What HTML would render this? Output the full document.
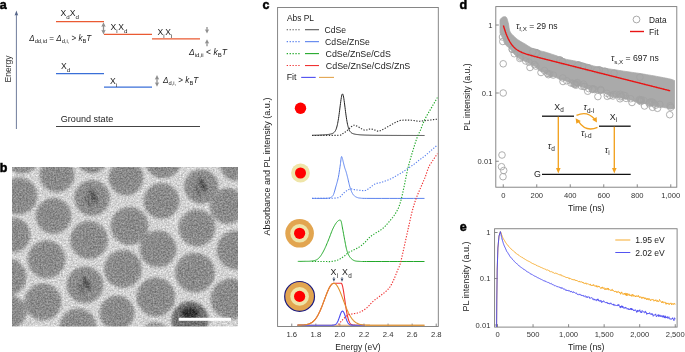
<!DOCTYPE html>
<html><head><meta charset="utf-8"><style>
html,body{margin:0;padding:0;background:#fff;width:685px;height:352px;overflow:hidden}
svg{display:block;will-change:transform}
text{font-family:"Liberation Sans",sans-serif}
</style></head><body>
<svg width="685" height="352" viewBox="0 0 685 352" font-family="Liberation Sans, sans-serif">
<text x="-0.3" y="8.9" font-size="12.5" font-weight="bold" fill="#000" stroke="#000" stroke-width="0.5">a</text>
<line x1="16.4" y1="13" x2="16.4" y2="129" stroke="#56668a" stroke-width="0.85"/>
<path d="M14.6,15.5 L16.4,10.6 L18.2,15.5 Q16.4,14.6 14.6,15.5 Z" fill="#56668a"/>
<text x="10.6" y="69" font-size="8.5" text-anchor="middle" fill="#333" transform="rotate(-90 10.6 69)">Energy</text>
<line x1="56" y1="21.6" x2="104" y2="21.6" stroke="#ea5a32" stroke-width="1.3"/>
<line x1="104" y1="34.3" x2="152" y2="34.3" stroke="#ea5a32" stroke-width="1.3"/>
<line x1="152" y1="38.8" x2="200" y2="38.8" stroke="#ea5a32" stroke-width="1.3"/>
<line x1="56" y1="73.7" x2="104" y2="73.7" stroke="#3a6fd8" stroke-width="1.3"/>
<line x1="104" y1="87.2" x2="152" y2="87.2" stroke="#3a6fd8" stroke-width="1.3"/>
<line x1="56" y1="126.5" x2="200" y2="126.5" stroke="#444" stroke-width="1.2"/>
<text x="60.6" y="16.2" font-size="8.6" fill="#222">X<tspan font-size="6.2" dy="2.3">d</tspan><tspan dy="-2.3" dx="0">X</tspan><tspan font-size="6.2" dy="2.3">d</tspan></text>
<text x="110.5" y="30.2" font-size="8.6" fill="#222">X<tspan font-size="6.2" dy="2.3">i</tspan><tspan dy="-2.3" dx="0.6">X</tspan><tspan font-size="6.2" dy="2.3">d</tspan></text>
<text x="157.5" y="35.2" font-size="8.6" fill="#222">X<tspan font-size="6.2" dy="2.3">i</tspan><tspan dy="-2.3" dx="0.6">X</tspan><tspan font-size="6.2" dy="2.3">i</tspan></text>
<text x="61" y="69.2" font-size="8.6" fill="#222">X<tspan font-size="6.2" dy="2.3">d</tspan></text>
<text x="110" y="84.2" font-size="8.6" fill="#222">X<tspan font-size="6.2" dy="2.3">i</tspan></text>
<text x="60.8" y="121.5" font-size="9" text-anchor="start" fill="#222" textLength="52.4" lengthAdjust="spacingAndGlyphs">Ground state</text>
<text x="29.3" y="41" font-size="8.5" fill="#222" textLength="62" lengthAdjust="spacingAndGlyphs"><tspan font-style="italic">Δ</tspan><tspan font-size="6" dy="1.8">dd,id</tspan><tspan dy="-1.8"> = </tspan><tspan font-style="italic">Δ</tspan><tspan font-size="6" dy="1.8">d,i,</tspan><tspan dy="-1.8"> &gt; </tspan><tspan font-style="italic">k</tspan><tspan font-size="6" dy="1.8">B</tspan><tspan dy="-1.8" font-style="italic">T</tspan></text>
<text x="189" y="55" font-size="8.5" fill="#222"><tspan font-style="italic">Δ</tspan><tspan font-size="6" dy="1.8">id,ii</tspan><tspan dy="-1.8"> &lt; </tspan><tspan font-style="italic">k</tspan><tspan font-size="6" dy="1.8">B</tspan><tspan dy="-1.8" font-style="italic">T</tspan></text>
<text x="162.9" y="83.4" font-size="8.5" fill="#222" textLength="35.4" lengthAdjust="spacingAndGlyphs"><tspan font-style="italic">Δ</tspan><tspan font-size="6" dy="1.8">d,i,</tspan><tspan dy="-1.8"> &gt; </tspan><tspan font-style="italic">k</tspan><tspan font-size="6" dy="1.8">B</tspan><tspan dy="-1.8" font-style="italic">T</tspan></text>
<line x1="103.5" y1="25.2" x2="103.5" y2="31.4" stroke="#8f8f8f" stroke-width="1.3"/><path d="M101.3,26.799999999999997 L103.5,22.2 L105.7,26.799999999999997 Q103.5,25.8 101.3,26.799999999999997 Z" fill="#8f8f8f"/><path d="M101.3,29.799999999999997 L103.5,34.4 L105.7,29.799999999999997 Q103.5,30.799999999999997 101.3,29.799999999999997 Z" fill="#8f8f8f"/>
<line x1="157" y1="78" x2="157" y2="83.8" stroke="#8f8f8f" stroke-width="1.3"/><path d="M154.8,79.6 L157,75 L159.2,79.6 Q157,78.6 154.8,79.6 Z" fill="#8f8f8f"/><path d="M154.8,82.2 L157,86.8 L159.2,82.2 Q157,83.2 154.8,82.2 Z" fill="#8f8f8f"/>
<line x1="207" y1="27" x2="207" y2="30" stroke="#8f8f8f" stroke-width="1.3"/><path d="M204.8,29.2 L207,33.6 L209.2,29.2 Q207,30.2 204.8,29.2 Z" fill="#8f8f8f"/>
<line x1="207" y1="43" x2="207" y2="46.3" stroke="#8f8f8f" stroke-width="1.3"/><path d="M204.8,43.6 L207,39.2 L209.2,43.6 Q207,42.6 204.8,43.6 Z" fill="#8f8f8f"/>
<text x="-0.3" y="172" font-size="12.5" font-weight="bold" fill="#000" stroke="#000" stroke-width="0.5">b</text>
<defs><clipPath id="temclip"><rect x="12" y="167" width="226" height="159.5"/></clipPath><filter id="blur1" x="-20%" y="-20%" width="140%" height="140%"><feGaussianBlur stdDeviation="1.6"/></filter><filter id="noise" x="0" y="0" width="100%" height="100%"><feTurbulence type="fractalNoise" baseFrequency="0.9" numOctaves="1" seed="3"/><feColorMatrix type="matrix" values="0 0 0 0 0.5  0 0 0 0 0.5  0 0 0 0 0.5  0.9 0 0 0 -0.35"/></filter></defs>
<filter id="temnoise" filterUnits="userSpaceOnUse" x="12" y="167" width="226" height="160" color-interpolation-filters="sRGB"><feTurbulence type="fractalNoise" baseFrequency="0.6" numOctaves="3" seed="11" result="n"/><feColorMatrix in="n" type="matrix" values="1 0 0 0 0  1 0 0 0 0  1 0 0 0 0  0 0 0 0 1" result="g"/><feComposite in="SourceGraphic" in2="g" operator="arithmetic" k1="0" k2="1" k3="0.4" k4="-0.2"/></filter>
<g clip-path="url(#temclip)"><g filter="url(#temnoise)">
<rect x="12" y="167" width="226" height="160" fill="#d2d2d2"/>
<defs><radialGradient id="pg"><stop offset="0" stop-color="#888888"/><stop offset="0.75" stop-color="#8c8c8c"/><stop offset="1" stop-color="#959595"/></radialGradient></defs>
<g filter="url(#blur1)">
<circle cx="57" cy="175" r="19.6" fill="#dcdcdc"/>
<circle cx="19" cy="196" r="20.6" fill="#dcdcdc"/>
<circle cx="53.5" cy="216" r="20.1" fill="#dcdcdc"/>
<circle cx="92" cy="198" r="20.1" fill="#dcdcdc"/>
<circle cx="126" cy="178" r="19.6" fill="#dcdcdc"/>
<circle cx="129.5" cy="226" r="21.1" fill="#dcdcdc"/>
<circle cx="13" cy="235" r="19.6" fill="#dcdcdc"/>
<circle cx="89" cy="240" r="21.1" fill="#dcdcdc"/>
<circle cx="46.5" cy="259.5" r="21.1" fill="#dcdcdc"/>
<circle cx="8" cy="277" r="20.6" fill="#dcdcdc"/>
<circle cx="123" cy="269" r="21.1" fill="#dcdcdc"/>
<circle cx="85" cy="285" r="20.6" fill="#dcdcdc"/>
<circle cx="43" cy="302" r="20.6" fill="#dcdcdc"/>
<circle cx="78" cy="327" r="20.6" fill="#dcdcdc"/>
<circle cx="117" cy="313" r="19.6" fill="#dcdcdc"/>
<circle cx="92" cy="158" r="17.6" fill="#dcdcdc"/>
<circle cx="163" cy="160" r="20.6" fill="#dcdcdc"/>
<circle cx="161.5" cy="201" r="20.1" fill="#dcdcdc"/>
<circle cx="201.2" cy="186.6" r="19.400000000000002" fill="#dcdcdc"/>
<circle cx="236.5" cy="164.5" r="18.6" fill="#dcdcdc"/>
<circle cx="227.8" cy="206" r="20.1" fill="#dcdcdc"/>
<circle cx="197" cy="228" r="20.6" fill="#dcdcdc"/>
<circle cx="158" cy="249" r="20.6" fill="#dcdcdc"/>
<circle cx="195" cy="272.6" r="22.1" fill="#dcdcdc"/>
<circle cx="236" cy="250" r="21.6" fill="#dcdcdc"/>
<circle cx="155.8" cy="297" r="21.6" fill="#dcdcdc"/>
<circle cx="231" cy="299" r="22.6" fill="#dcdcdc"/>
<circle cx="190" cy="320" r="20.6" fill="#dcdcdc"/>
<circle cx="22" cy="155" r="20.6" fill="#dcdcdc"/>
<circle cx="10" cy="312" r="18.6" fill="#dcdcdc"/>
<circle cx="155" cy="341" r="20.6" fill="#dcdcdc"/>
<circle cx="57" cy="175" r="17.9" fill="url(#pg)"/>
<circle cx="19" cy="196" r="18.9" fill="url(#pg)"/>
<circle cx="53.5" cy="216" r="18.4" fill="url(#pg)"/>
<circle cx="92" cy="198" r="18.4" fill="url(#pg)"/>
<ellipse cx="94" cy="197" rx="3" ry="8" transform="rotate(-25 92 198)" fill="#555"/>
<ellipse cx="87" cy="200" rx="2" ry="7" transform="rotate(-25 92 198)" fill="#6a6a6a"/>
<circle cx="126" cy="178" r="17.9" fill="url(#pg)"/>
<circle cx="129.5" cy="226" r="19.4" fill="url(#pg)"/>
<circle cx="13" cy="235" r="17.9" fill="url(#pg)"/>
<circle cx="89" cy="240" r="19.4" fill="url(#pg)"/>
<circle cx="46.5" cy="259.5" r="19.4" fill="url(#pg)"/>
<circle cx="8" cy="277" r="18.9" fill="url(#pg)"/>
<circle cx="123" cy="269" r="19.4" fill="url(#pg)"/>
<circle cx="85" cy="285" r="18.9" fill="url(#pg)"/>
<ellipse cx="87" cy="284" rx="3" ry="8" transform="rotate(-25 85 285)" fill="#555"/>
<ellipse cx="80" cy="287" rx="2" ry="7" transform="rotate(-25 85 285)" fill="#6a6a6a"/>
<circle cx="43" cy="302" r="18.9" fill="url(#pg)"/>
<circle cx="78" cy="327" r="18.9" fill="url(#pg)"/>
<circle cx="117" cy="313" r="17.9" fill="url(#pg)"/>
<circle cx="92" cy="158" r="15.9" fill="url(#pg)"/>
<circle cx="163" cy="160" r="18.9" fill="url(#pg)"/>
<circle cx="161.5" cy="201" r="18.4" fill="url(#pg)"/>
<circle cx="201.2" cy="186.6" r="17.7" fill="url(#pg)"/>
<ellipse cx="203.2" cy="185.6" rx="3" ry="8" transform="rotate(-25 201.2 186.6)" fill="#555"/>
<ellipse cx="196.2" cy="188.6" rx="2" ry="7" transform="rotate(-25 201.2 186.6)" fill="#6a6a6a"/>
<circle cx="236.5" cy="164.5" r="16.9" fill="url(#pg)"/>
<circle cx="227.8" cy="206" r="18.4" fill="url(#pg)"/>
<circle cx="197" cy="228" r="18.9" fill="url(#pg)"/>
<circle cx="158" cy="249" r="18.9" fill="url(#pg)"/>
<circle cx="195" cy="272.6" r="20.4" fill="url(#pg)"/>
<circle cx="236" cy="250" r="19.9" fill="url(#pg)"/>
<circle cx="155.8" cy="297" r="19.9" fill="url(#pg)"/>
<circle cx="231" cy="299" r="20.9" fill="url(#pg)"/>
<circle cx="190" cy="320" r="18.9" fill="#707070"/>
<ellipse cx="190" cy="313" rx="9" ry="6" fill="#303030"/>
<circle cx="22" cy="155" r="18.9" fill="url(#pg)"/>
<circle cx="10" cy="312" r="16.9" fill="url(#pg)"/>
<circle cx="155" cy="341" r="18.9" fill="url(#pg)"/>
</g>
</g></g>
<rect x="178.7" y="317.8" width="52.3" height="3" fill="#fff"/>
<text x="262.6" y="9" font-size="12.5" font-weight="bold" fill="#000" stroke="#000" stroke-width="0.5">c</text>
<rect x="277.6" y="7.5" width="160.7" height="319" fill="none" stroke="#7a7a7a" stroke-width="0.9"/>
<line x1="291.75" y1="326.5" x2="291.75" y2="323.6" stroke="#7a7a7a" stroke-width="0.9"/>
<text x="291.75" y="336.9" font-size="7.7" text-anchor="middle" fill="#333" >1.6</text>
<line x1="315.83" y1="326.5" x2="315.83" y2="323.6" stroke="#7a7a7a" stroke-width="0.9"/>
<text x="315.83" y="336.9" font-size="7.7" text-anchor="middle" fill="#333" >1.8</text>
<line x1="339.91" y1="326.5" x2="339.91" y2="323.6" stroke="#7a7a7a" stroke-width="0.9"/>
<text x="339.91" y="336.9" font-size="7.7" text-anchor="middle" fill="#333" >2.0</text>
<line x1="363.99" y1="326.5" x2="363.99" y2="323.6" stroke="#7a7a7a" stroke-width="0.9"/>
<text x="363.99" y="336.9" font-size="7.7" text-anchor="middle" fill="#333" >2.2</text>
<line x1="388.07" y1="326.5" x2="388.07" y2="323.6" stroke="#7a7a7a" stroke-width="0.9"/>
<text x="388.07" y="336.9" font-size="7.7" text-anchor="middle" fill="#333" >2.4</text>
<line x1="412.15" y1="326.5" x2="412.15" y2="323.6" stroke="#7a7a7a" stroke-width="0.9"/>
<text x="412.15" y="336.9" font-size="7.7" text-anchor="middle" fill="#333" >2.6</text>
<line x1="436.23" y1="326.5" x2="436.23" y2="323.6" stroke="#7a7a7a" stroke-width="0.9"/>
<text x="436.23" y="336.9" font-size="7.7" text-anchor="middle" fill="#333" >2.8</text>
<text x="358" y="350" font-size="8.8" text-anchor="middle" fill="#222" textLength="45.3" lengthAdjust="spacingAndGlyphs">Energy (eV)</text>
<text x="269.6" y="166.6" font-size="8.8" text-anchor="middle" fill="#222" transform="rotate(-90 269.6 166.6)" textLength="138" lengthAdjust="spacingAndGlyphs">Absorbance and PL intensity (a.u.)</text>
<text x="287" y="21" font-size="8.6" text-anchor="start" fill="#222" textLength="27" lengthAdjust="spacingAndGlyphs">Abs PL</text>
<line x1="286.7" y1="29.70" x2="300.5" y2="29.70" stroke="#555555" stroke-width="1.1" stroke-dasharray="1.3,1.6"/>
<line x1="305" y1="29.70" x2="319" y2="29.70" stroke="#555555" stroke-width="1.1"/>
<text x="324.6" y="33.00" font-size="9" text-anchor="start" fill="#222" textLength="21.5" lengthAdjust="spacingAndGlyphs">CdSe</text>
<line x1="286.7" y1="41.65" x2="300.5" y2="41.65" stroke="#5b82ee" stroke-width="1.1" stroke-dasharray="1.3,1.6"/>
<line x1="305" y1="41.65" x2="319" y2="41.65" stroke="#5b82ee" stroke-width="1.1"/>
<text x="325.1" y="44.95" font-size="9" text-anchor="start" fill="#222" textLength="44.7" lengthAdjust="spacingAndGlyphs">CdSe/ZnSe</text>
<line x1="286.7" y1="53.60" x2="300.5" y2="53.60" stroke="#22a82a" stroke-width="1.1" stroke-dasharray="1.3,1.6"/>
<line x1="305" y1="53.60" x2="319" y2="53.60" stroke="#22a82a" stroke-width="1.1"/>
<text x="325.5" y="56.90" font-size="9" text-anchor="start" fill="#222" textLength="65.3" lengthAdjust="spacingAndGlyphs">CdSe/ZnSe/CdS</text>
<line x1="286.7" y1="65.55" x2="300.5" y2="65.55" stroke="#f03232" stroke-width="1.1" stroke-dasharray="1.3,1.6"/>
<line x1="305" y1="65.55" x2="319" y2="65.55" stroke="#f03232" stroke-width="1.1"/>
<text x="325.8" y="68.85" font-size="9" text-anchor="start" fill="#222" textLength="84.5" lengthAdjust="spacingAndGlyphs">CdSe/ZnSe/CdS/ZnS</text>
<text x="286.7" y="80.4" font-size="8.8" text-anchor="start" fill="#222" >Fit</text>
<line x1="301.2" y1="77.4" x2="315.7" y2="77.4" stroke="#4d4df0" stroke-width="1.1"/>
<line x1="319" y1="77.4" x2="334" y2="77.4" stroke="#e3a54e" stroke-width="1.1"/>
<circle cx="300.5" cy="108.3" r="5.7" fill="#ff0000"/>
<circle cx="300.5" cy="173" r="9.4" fill="#efe5a9"/><circle cx="300.5" cy="173" r="5.5" fill="#ff0000"/>
<circle cx="299.6" cy="233.3" r="14.3" fill="#e2a550"/><circle cx="299.6" cy="233.3" r="9.3" fill="#efe5a9"/><circle cx="299.6" cy="233.3" r="5.6" fill="#ff0000"/>
<circle cx="299.6" cy="296.4" r="14.9" fill="#e2a550" stroke="#1c1c80" stroke-width="1.2"/><circle cx="299.6" cy="296.4" r="9.3" fill="#efe5a9"/><circle cx="299.6" cy="296.4" r="5.6" fill="#ff0000"/>
<polyline points="312.00,135.26 312.28,135.26 312.56,135.25 312.85,135.25 313.13,135.25 313.41,135.24 313.69,135.24 313.97,135.23 314.26,135.22 314.54,135.22 314.82,135.21 315.10,135.21 315.38,135.20 315.67,135.20 315.95,135.19 316.23,135.18 316.51,135.18 316.79,135.17 317.08,135.16 317.36,135.15 317.64,135.15 317.92,135.14 318.20,135.13 318.48,135.12 318.77,135.11 319.05,135.10 319.33,135.09 319.61,135.08 319.89,135.07 320.18,135.06 320.46,135.05 320.74,135.04 321.02,135.03 321.30,135.02 321.59,135.00 321.87,134.99 322.15,134.98 322.43,134.96 322.71,134.95 323.00,134.93 323.28,134.92 323.56,134.90 323.84,134.88 324.12,134.86 324.41,134.84 324.69,134.82 324.97,134.80 325.25,134.78 325.53,134.76 325.82,134.73 326.10,134.71 326.38,134.68 326.66,134.65 326.94,134.62 327.23,134.59 327.51,134.56 327.79,134.52 328.07,134.49 328.35,134.45 328.64,134.41 328.92,134.36 329.20,134.32 329.48,134.27 329.76,134.22 330.05,134.16 330.33,134.10 330.61,134.04 330.89,133.97 331.17,133.90 331.45,133.82 331.74,133.73 332.02,133.63 332.30,133.52 332.58,133.40 332.86,133.27 333.15,133.12 333.43,132.94 333.71,132.75 333.99,132.52 334.27,132.25 334.56,131.95 334.84,131.59 335.12,131.18 335.40,130.71 335.68,130.15 335.97,129.51 336.25,128.78 336.53,127.94 336.81,126.99 337.09,125.91 337.38,124.70 337.66,123.36 337.94,121.87 338.22,120.24 338.50,118.48 338.79,116.58 339.07,114.57 339.35,112.46 339.63,110.26 339.91,108.02 340.20,105.76 340.48,103.54 340.76,101.40 341.04,99.41 341.32,97.62 341.61,96.12 341.89,94.97 342.17,94.22 342.45,93.91 342.73,94.06 343.02,94.66 343.30,95.68 343.58,97.07 343.86,98.76 344.14,100.69 344.42,102.78 344.71,104.99 344.99,107.24 345.27,109.49 345.55,111.70 345.83,113.85 346.12,115.90 346.40,117.84 346.68,119.65 346.96,121.32 347.24,122.86 347.53,124.25 347.81,125.51 348.09,126.63 348.37,127.62 348.65,128.50 348.94,129.27 349.22,129.94 349.50,130.52 349.78,131.03 350.06,131.46 350.35,131.83 350.63,132.15 350.91,132.43 351.19,132.67 351.47,132.88 351.76,133.06 352.04,133.22 352.32,133.36 352.60,133.48 352.88,133.60 353.17,133.70 353.45,133.79 353.73,133.87 354.01,133.95 354.29,134.02 354.58,134.08 354.86,134.14 355.14,134.20 355.42,134.25 355.70,134.30 355.98,134.35 356.27,134.39 356.55,134.44 356.83,134.47 357.11,134.51 357.39,134.55 357.68,134.58 357.96,134.61 358.24,134.64 358.52,134.67 358.80,134.70 359.09,134.72 359.37,134.75 359.65,134.77 359.93,134.79 360.21,134.82 360.50,134.84 360.78,134.86 361.06,134.87 361.34,134.89 361.62,134.91 361.91,134.93 362.19,134.94 362.47,134.96 362.75,134.97 363.03,134.99 363.32,135.00 363.60,135.01 363.88,135.02 364.16,135.04 364.44,135.05 364.73,135.06 365.01,135.07 365.29,135.08 365.57,135.09 365.85,135.10 366.14,135.11 366.42,135.12 366.70,135.13 366.98,135.14 367.26,135.14 367.55,135.15 367.83,135.16 368.11,135.17 368.39,135.17 368.67,135.18 368.95,135.19 369.24,135.19 369.52,135.20 369.80,135.21 370.08,135.21 370.36,135.22 370.65,135.22 370.93,135.23 371.21,135.23 371.49,135.24 371.77,135.24 372.06,135.25 372.34,135.25 372.62,135.26 372.90,135.26 373.18,135.27 373.47,135.27 373.75,135.27 374.03,135.28 374.31,135.28 374.59,135.29 374.88,135.29 375.16,135.29 375.44,135.30 375.72,135.30 376.00,135.30 376.29,135.31 376.57,135.31 376.85,135.31 377.13,135.32 377.41,135.32 377.70,135.32 377.98,135.32 378.26,135.33 378.54,135.33 378.82,135.33 379.11,135.34 379.39,135.34 379.67,135.34 379.95,135.34 380.23,135.34 380.52,135.35 380.80,135.35 381.08,135.35 381.36,135.35 381.64,135.36 381.92,135.36 382.21,135.36 382.49,135.36 382.77,135.36 383.05,135.37 383.33,135.37 383.62,135.37 383.90,135.37 384.18,135.37 384.46,135.37 384.74,135.38 385.03,135.38 385.31,135.38 385.59,135.38 385.87,135.38 386.15,135.38 386.44,135.39 386.72,135.39 387.00,135.39 387.28,135.39 387.56,135.39 387.85,135.39 388.13,135.39 388.41,135.39 388.69,135.40 388.97,135.40 389.26,135.40 389.54,135.40 389.82,135.40 390.10,135.40 390.38,135.40 390.67,135.40 390.95,135.41 391.23,135.41 391.51,135.41 391.79,135.41 392.08,135.41 392.36,135.41 392.64,135.41 392.92,135.41 393.20,135.41 393.48,135.41 393.77,135.42 394.05,135.42 394.33,135.42 394.61,135.42 394.89,135.42 395.18,135.42 395.46,135.42 395.74,135.42 396.02,135.42 396.30,135.42 396.59,135.42 396.87,135.42 397.15,135.43 397.43,135.43 397.71,135.43 398.00,135.43 398.28,135.43 398.56,135.43 398.84,135.43 399.12,135.43 399.41,135.43 399.69,135.43 399.97,135.43 400.25,135.43 400.53,135.43 400.82,135.43 401.10,135.44 401.38,135.44 401.66,135.44 401.94,135.44 402.23,135.44 402.51,135.44 402.79,135.44 403.07,135.44 403.35,135.44 403.64,135.44 403.92,135.44 404.20,135.44 404.48,135.44 404.76,135.44 405.05,135.44 405.33,135.44 405.61,135.44 405.89,135.44 406.17,135.45 406.45,135.45 406.74,135.45 407.02,135.45 407.30,135.45 407.58,135.45 407.86,135.45 408.15,135.45 408.43,135.45 408.71,135.45 408.99,135.45 409.27,135.45 409.56,135.45 409.84,135.45 410.12,135.45 410.40,135.45 410.68,135.45 410.97,135.45 411.25,135.45 411.53,135.45 411.81,135.45 412.09,135.45 412.38,135.45 412.66,135.45 412.94,135.46 413.22,135.46 413.50,135.46 413.79,135.46 414.07,135.46 414.35,135.46 414.63,135.46 414.91,135.46 415.20,135.46 415.48,135.46 415.76,135.46 416.04,135.46 416.32,135.46 416.61,135.46 416.89,135.46 417.17,135.46 417.45,135.46 417.73,135.46 418.02,135.46 418.30,135.46 418.58,135.46 418.86,135.46 419.14,135.46 419.42,135.46 419.71,135.46 419.99,135.46 420.27,135.46 420.55,135.46 420.83,135.46 421.12,135.46 421.40,135.46 421.68,135.46 421.96,135.46 422.24,135.47 422.53,135.47 422.81,135.47 423.09,135.47 423.37,135.47 423.65,135.47 423.94,135.47 424.22,135.47 424.50,135.47" fill="none" stroke="#222" stroke-width="1.0" stroke-linejoin="round" />
<defs><clipPath id="cclip"><rect x="278" y="8" width="159.7" height="318"/></clipPath></defs>
<g clip-path="url(#cclip)">
<polyline points="312.00,135.50 312.77,135.49 313.74,135.49 314.90,135.48 316.19,135.47 317.59,135.46 319.07,135.45 320.58,135.44 322.10,135.43 323.58,135.41 325.00,135.40 326.44,135.39 327.98,135.39 329.59,135.39 331.22,135.40 332.84,135.40 334.42,135.39 335.91,135.37 337.28,135.34 338.49,135.28 339.50,135.20 340.29,135.10 340.90,134.97 341.35,134.83 341.67,134.68 341.91,134.51 342.10,134.32 342.27,134.13 342.45,133.93 342.68,133.72 343.00,133.50 343.37,133.28 343.75,133.05 344.12,132.81 344.51,132.56 344.89,132.30 345.28,132.03 345.68,131.74 346.08,131.45 346.49,131.13 346.90,130.80 347.33,130.44 347.77,130.03 348.23,129.59 348.69,129.14 349.16,128.68 349.62,128.22 350.07,127.78 350.50,127.38 350.91,127.01 351.30,126.70 351.65,126.43 351.97,126.18 352.26,125.95 352.53,125.75 352.80,125.58 353.07,125.43 353.34,125.32 353.63,125.24 353.95,125.20 354.30,125.20 354.68,125.25 355.07,125.34 355.47,125.49 355.89,125.66 356.32,125.87 356.76,126.10 357.23,126.34 357.70,126.60 358.19,126.85 358.70,127.10 359.23,127.37 359.78,127.70 360.36,128.05 360.95,128.42 361.56,128.79 362.17,129.14 362.78,129.47 363.40,129.74 364.00,129.96 364.60,130.10 365.20,130.15 365.80,130.11 366.41,130.00 367.03,129.85 367.64,129.67 368.24,129.48 368.83,129.30 369.41,129.14 369.97,129.04 370.50,129.00 371.01,129.02 371.50,129.08 371.97,129.17 372.43,129.29 372.88,129.42 373.32,129.56 373.75,129.71 374.17,129.85 374.58,129.98 375.00,130.10 375.40,130.22 375.77,130.37 376.12,130.52 376.46,130.68 376.81,130.84 377.16,130.97 377.52,131.08 377.91,131.14 378.33,131.15 378.80,131.10 379.30,130.99 379.84,130.82 380.39,130.61 380.97,130.36 381.57,130.07 382.19,129.77 382.83,129.44 383.48,129.10 384.13,128.75 384.80,128.40 385.49,128.04 386.21,127.64 386.96,127.21 387.73,126.77 388.51,126.32 389.28,125.87 390.05,125.42 390.79,124.99 391.51,124.58 392.20,124.20 392.86,123.84 393.50,123.49 394.13,123.15 394.74,122.82 395.34,122.50 395.92,122.20 396.49,121.92 397.04,121.65 397.58,121.41 398.10,121.20 398.58,121.01 399.00,120.86 399.39,120.72 399.75,120.61 400.11,120.51 400.49,120.43 400.90,120.36 401.36,120.30 401.88,120.25 402.50,120.20 403.21,120.16 404.02,120.12 404.89,120.09 405.81,120.08 406.77,120.08 407.74,120.08 408.71,120.09 409.65,120.12 410.55,120.16 411.40,120.20 412.19,120.27 412.96,120.36 413.70,120.48 414.43,120.61 415.14,120.74 415.85,120.87 416.55,120.99 417.26,121.09 417.97,121.16 418.70,121.20 419.42,121.20 420.12,121.18 420.80,121.13 421.48,121.07 422.17,120.99 422.88,120.90 423.62,120.81 424.39,120.71 425.22,120.60 426.10,120.50 427.10,120.39 428.23,120.26 429.46,120.11 430.73,119.96 432.01,119.81 433.26,119.66 434.42,119.51 435.46,119.39 436.34,119.28 437.00,119.20" fill="none" stroke="#333" stroke-width="1.15" stroke-dasharray="1.3,1.5" stroke-linejoin="round" />
<polyline points="312.00,198.40 313.06,198.40 314.54,198.40 316.31,198.40 318.24,198.40 320.20,198.39 322.06,198.38 323.71,198.37 325.00,198.35 325.96,198.33 326.71,198.30 327.29,198.28 327.75,198.25 328.13,198.21 328.47,198.15 328.81,198.09 329.20,198.00 329.61,197.90 329.98,197.79 330.33,197.67 330.65,197.53 330.95,197.38 331.24,197.21 331.52,197.02 331.80,196.80 332.06,196.58 332.30,196.38 332.52,196.17 332.73,195.94 332.93,195.65 333.14,195.30 333.36,194.86 333.60,194.30 333.85,193.62 334.11,192.84 334.38,191.97 334.66,191.03 334.94,190.04 335.22,189.01 335.51,187.95 335.80,186.90 336.10,185.84 336.42,184.77 336.74,183.67 337.06,182.53 337.39,181.35 337.70,180.13 338.01,178.85 338.30,177.50 338.58,176.04 338.86,174.45 339.13,172.77 339.39,171.06 339.64,169.36 339.88,167.72 340.10,166.19 340.30,164.80 340.48,163.51 340.64,162.24 340.78,161.03 340.91,159.90 341.03,158.88 341.15,158.01 341.27,157.30 341.40,156.80 341.53,156.54 341.66,156.51 341.79,156.66 341.92,156.94 342.04,157.32 342.17,157.74 342.29,158.14 342.40,158.50 342.50,158.82 342.60,159.15 342.68,159.51 342.77,159.89 342.86,160.30 342.96,160.75 343.07,161.25 343.20,161.80 343.35,162.42 343.53,163.13 343.71,163.89 343.91,164.68 344.11,165.48 344.31,166.27 344.51,167.02 344.70,167.70 344.89,168.31 345.08,168.88 345.27,169.42 345.46,169.93 345.64,170.44 345.83,170.96 346.02,171.51 346.20,172.10 346.37,172.70 346.54,173.29 346.69,173.88 346.85,174.49 347.01,175.14 347.19,175.85 347.38,176.63 347.60,177.50 347.85,178.51 348.11,179.65 348.40,180.89 348.70,182.17 349.01,183.46 349.31,184.70 349.61,185.87 349.90,186.90 350.18,187.82 350.46,188.69 350.73,189.50 351.01,190.25 351.28,190.95 351.55,191.61 351.83,192.23 352.10,192.80 352.37,193.32 352.64,193.79 352.90,194.20 353.17,194.57 353.44,194.90 353.71,195.22 354.00,195.51 354.30,195.80 354.61,196.07 354.93,196.32 355.25,196.54 355.59,196.74 355.93,196.93 356.28,197.10 356.64,197.25 357.00,197.40 357.33,197.53 357.61,197.65 357.87,197.75 358.16,197.83 358.49,197.91 358.92,197.97 359.48,198.04 360.20,198.10 360.80,198.16 361.14,198.21 361.43,198.25 361.89,198.29 362.76,198.33 364.25,198.36 366.59,198.38 370.00,198.40 375.05,198.41 381.76,198.42 389.56,198.42 397.86,198.42 406.09,198.41 413.66,198.41 419.99,198.40 424.50,198.40" fill="none" stroke="#5b82ee" stroke-width="1.0" stroke-linejoin="round" />
<polyline points="312.00,198.40 312.80,198.40 313.86,198.40 315.13,198.40 316.55,198.40 318.06,198.41 319.61,198.41 321.13,198.41 322.58,198.41 323.88,198.40 325.00,198.40 325.94,198.40 326.78,198.40 327.53,198.41 328.21,198.42 328.84,198.42 329.45,198.42 330.05,198.41 330.66,198.39 331.31,198.35 332.00,198.30 332.74,198.25 333.52,198.20 334.31,198.15 335.11,198.09 335.91,198.02 336.69,197.93 337.45,197.80 338.18,197.65 338.87,197.45 339.50,197.20 340.07,196.89 340.57,196.52 341.03,196.10 341.45,195.64 341.85,195.16 342.24,194.67 342.64,194.17 343.06,193.69 343.51,193.23 344.00,192.80 344.54,192.38 345.11,191.95 345.71,191.51 346.33,191.07 346.96,190.64 347.58,190.24 348.20,189.88 348.79,189.56 349.36,189.30 349.90,189.10 350.37,188.98 350.78,188.92 351.14,188.93 351.48,188.97 351.82,189.06 352.19,189.16 352.59,189.28 353.07,189.40 353.63,189.51 354.30,189.60 355.12,189.69 356.08,189.82 357.14,189.96 358.28,190.12 359.45,190.27 360.62,190.41 361.76,190.52 362.82,190.60 363.78,190.63 364.60,190.60 365.27,190.52 365.83,190.40 366.30,190.24 366.71,190.06 367.07,189.84 367.41,189.59 367.75,189.32 368.11,189.03 368.52,188.72 369.00,188.40 369.54,188.04 370.10,187.61 370.69,187.15 371.29,186.66 371.91,186.16 372.54,185.66 373.16,185.18 373.79,184.73 374.40,184.33 375.00,184.00 375.57,183.74 376.12,183.54 376.66,183.39 377.19,183.27 377.72,183.18 378.27,183.08 378.84,182.98 379.44,182.86 380.10,182.71 380.80,182.50 381.58,182.25 382.44,181.96 383.36,181.65 384.31,181.32 385.28,180.98 386.25,180.63 387.20,180.28 388.10,179.94 388.94,179.61 389.70,179.30 390.37,179.01 390.96,178.73 391.50,178.47 392.00,178.21 392.47,177.95 392.93,177.69 393.40,177.42 393.89,177.13 394.42,176.83 395.00,176.50 395.63,176.15 396.30,175.78 397.00,175.40 397.71,175.00 398.44,174.59 399.17,174.18 399.90,173.76 400.62,173.34 401.32,172.92 402.00,172.50 402.66,172.08 403.30,171.67 403.93,171.24 404.55,170.82 405.17,170.39 405.78,169.96 406.40,169.53 407.03,169.09 407.66,168.65 408.30,168.20 408.96,167.74 409.64,167.27 410.33,166.80 411.03,166.32 411.73,165.83 412.42,165.35 413.10,164.87 413.76,164.40 414.40,163.94 415.00,163.50 415.57,163.07 416.10,162.65 416.62,162.25 417.11,161.84 417.59,161.45 418.06,161.06 418.53,160.67 419.01,160.28 419.50,159.89 420.00,159.50 420.52,159.11 421.03,158.73 421.56,158.36 422.08,157.99 422.61,157.62 423.14,157.24 423.67,156.86 424.21,156.46 424.75,156.04 425.30,155.60 425.85,155.14 426.40,154.66 426.96,154.17 427.51,153.67 428.08,153.15 428.64,152.63 429.22,152.10 429.80,151.56 430.40,151.03 431.00,150.50 431.65,149.94 432.35,149.34 433.10,148.71 433.85,148.06 434.61,147.43 435.33,146.82 436.00,146.26 436.60,145.75 437.11,145.33 437.50,145.00" fill="none" stroke="#5b82ee" stroke-width="1.15" stroke-dasharray="1.3,1.5" stroke-linejoin="round" />
<polyline points="297.80,261.40 298.37,261.39 299.15,261.38 300.07,261.37 301.09,261.36 302.14,261.34 303.19,261.33 304.16,261.31 305.00,261.30 305.73,261.29 306.39,261.30 307.01,261.30 307.59,261.31 308.17,261.30 308.75,261.29 309.36,261.26 310.00,261.20 310.69,261.13 311.41,261.07 312.15,260.99 312.90,260.90 313.64,260.78 314.36,260.63 315.05,260.44 315.70,260.20 316.30,259.92 316.85,259.63 317.38,259.30 317.89,258.93 318.38,258.52 318.88,258.05 319.38,257.51 319.90,256.90 320.43,256.21 320.97,255.46 321.51,254.64 322.04,253.76 322.58,252.83 323.12,251.86 323.66,250.85 324.20,249.80 324.74,248.70 325.28,247.54 325.82,246.33 326.36,245.08 326.89,243.79 327.43,242.50 327.97,241.19 328.50,239.90 329.03,238.57 329.57,237.18 330.11,235.76 330.64,234.33 331.17,232.93 331.69,231.59 332.20,230.34 332.70,229.20 333.18,228.17 333.66,227.21 334.13,226.31 334.59,225.49 335.03,224.73 335.47,224.02 335.89,223.38 336.30,222.80 336.69,222.28 337.08,221.83 337.45,221.44 337.81,221.11 338.15,220.83 338.48,220.61 338.80,220.43 339.10,220.30 339.38,220.18 339.64,220.07 339.89,220.00 340.12,219.98 340.34,220.05 340.56,220.22 340.78,220.53 341.00,221.00 341.22,221.64 341.43,222.45 341.63,223.39 341.84,224.43 342.04,225.56 342.25,226.75 342.47,227.97 342.70,229.20 342.94,230.48 343.20,231.86 343.46,233.31 343.72,234.79 343.99,236.29 344.27,237.78 344.53,239.22 344.80,240.60 345.06,241.93 345.31,243.26 345.55,244.58 345.80,245.86 346.05,247.11 346.32,248.31 346.60,249.44 346.90,250.50 347.22,251.49 347.54,252.41 347.87,253.28 348.22,254.09 348.58,254.86 348.96,255.58 349.37,256.26 349.80,256.90 350.25,257.50 350.72,258.06 351.21,258.57 351.73,259.04 352.26,259.47 352.81,259.86 353.39,260.20 354.00,260.50 354.61,260.75 355.21,260.93 355.83,261.07 356.47,261.17 357.16,261.24 357.92,261.29 358.76,261.34 359.70,261.40 360.47,261.45 360.92,261.48 361.28,261.50 361.80,261.51 362.70,261.50 364.21,261.50 366.57,261.50 370.00,261.50 375.07,261.50 381.79,261.51 389.60,261.51 397.89,261.51 406.11,261.50 413.67,261.50 419.99,261.50 424.50,261.50" fill="none" stroke="#22a82a" stroke-width="1.0" stroke-linejoin="round" />
<polyline points="312.00,261.50 312.80,261.50 313.88,261.50 315.16,261.50 316.59,261.50 318.11,261.50 319.66,261.50 321.18,261.50 322.62,261.50 323.91,261.50 325.00,261.50 325.90,261.51 326.68,261.53 327.36,261.56 327.96,261.59 328.52,261.61 329.04,261.63 329.56,261.63 330.10,261.62 330.67,261.57 331.30,261.50 331.98,261.40 332.69,261.28 333.42,261.15 334.15,260.99 334.89,260.82 335.62,260.63 336.35,260.42 337.06,260.20 337.74,259.96 338.40,259.70 339.03,259.42 339.65,259.11 340.26,258.78 340.85,258.43 341.42,258.06 341.99,257.69 342.54,257.31 343.07,256.93 343.59,256.56 344.10,256.20 344.59,255.84 345.05,255.46 345.50,255.08 345.93,254.70 346.34,254.31 346.75,253.94 347.16,253.57 347.57,253.23 347.98,252.90 348.40,252.60 348.81,252.34 349.20,252.11 349.57,251.92 349.93,251.74 350.31,251.58 350.69,251.40 351.11,251.22 351.56,251.02 352.05,250.78 352.60,250.50 353.22,250.18 353.91,249.83 354.65,249.46 355.43,249.06 356.23,248.65 357.04,248.23 357.83,247.80 358.60,247.36 359.33,246.93 360.00,246.50 360.62,246.07 361.20,245.64 361.76,245.20 362.30,244.76 362.82,244.31 363.32,243.86 363.82,243.40 364.31,242.94 364.80,242.47 365.30,242.00 365.79,241.51 366.27,241.01 366.74,240.49 367.21,239.96 367.67,239.44 368.13,238.92 368.59,238.41 369.05,237.91 369.52,237.44 370.00,237.00 370.49,236.59 370.98,236.20 371.48,235.82 371.98,235.47 372.48,235.12 372.99,234.79 373.49,234.47 374.00,234.14 374.50,233.82 375.00,233.50 375.50,233.18 376.01,232.87 376.53,232.57 377.04,232.28 377.55,231.99 378.06,231.70 378.56,231.41 379.05,231.11 379.53,230.81 380.00,230.50 380.45,230.19 380.90,229.87 381.33,229.56 381.76,229.24 382.17,228.93 382.59,228.60 382.99,228.27 383.40,227.92 383.80,227.57 384.20,227.20 384.59,226.83 384.95,226.46 385.31,226.09 385.66,225.72 386.00,225.33 386.36,224.92 386.73,224.49 387.12,224.03 387.54,223.54 388.00,223.00 388.50,222.42 389.04,221.80 389.62,221.14 390.21,220.45 390.82,219.74 391.44,219.01 392.04,218.26 392.64,217.51 393.21,216.75 393.75,216.00 394.27,215.25 394.78,214.48 395.28,213.71 395.77,212.92 396.25,212.12 396.72,211.32 397.17,210.50 397.60,209.68 398.01,208.84 398.40,208.00 398.76,207.15 399.10,206.31 399.40,205.47 399.70,204.62 399.97,203.75 400.24,202.86 400.50,201.95 400.76,201.01 401.03,200.03 401.30,199.00 401.57,197.97 401.82,196.95 402.06,195.94 402.30,194.90 402.53,193.81 402.78,192.66 403.05,191.43 403.33,190.09 403.65,188.62 404.00,187.00 404.38,185.22 404.77,183.29 405.19,181.23 405.62,179.06 406.07,176.81 406.55,174.50 407.06,172.14 407.59,169.75 408.15,167.37 408.75,165.00 409.40,162.55 410.13,159.95 410.90,157.25 411.71,154.50 412.53,151.75 413.35,149.06 414.15,146.49 414.91,144.09 415.62,141.91 416.25,140.00 416.81,138.39 417.31,137.04 417.77,135.90 418.19,134.93 418.59,134.08 418.97,133.29 419.34,132.54 419.71,131.77 420.10,130.94 420.50,130.00 420.91,128.99 421.29,127.99 421.67,126.99 422.04,125.99 422.42,124.98 422.80,123.97 423.21,122.95 423.64,121.91 424.10,120.87 424.60,119.80 425.15,118.71 425.73,117.61 426.35,116.48 426.99,115.34 427.65,114.20 428.32,113.05 429.00,111.90 429.68,110.76 430.35,109.62 431.00,108.50 431.68,107.34 432.40,106.10 433.15,104.83 433.90,103.55 434.65,102.29 435.36,101.09 436.02,99.98 436.61,98.99 437.11,98.15 437.50,97.50" fill="none" stroke="#22a82a" stroke-width="1.15" stroke-dasharray="1.3,1.5" stroke-linejoin="round" />
<polyline points="297.50,325.18 297.75,325.17 298.01,325.17 298.26,325.17 298.52,325.16 298.77,325.16 299.03,325.16 299.28,325.15 299.54,325.15 299.79,325.14 300.05,325.13 300.30,325.13 300.55,325.12 300.81,325.11 301.06,325.10 301.32,325.09 301.57,325.08 301.83,325.07 302.08,325.06 302.34,325.05 302.59,325.03 302.84,325.01 303.10,325.00 303.35,324.98 303.61,324.96 303.86,324.94 304.12,324.91 304.37,324.89 304.63,324.86 304.88,324.83 305.14,324.80 305.39,324.76 305.64,324.73 305.90,324.69 306.15,324.65 306.41,324.60 306.66,324.55 306.92,324.50 307.17,324.44 307.43,324.38 307.68,324.32 307.93,324.25 308.19,324.18 308.44,324.10 308.70,324.01 308.95,323.93 309.21,323.83 309.46,323.73 309.72,323.63 309.97,323.51 310.23,323.40 310.48,323.27 310.73,323.14 310.99,322.99 311.24,322.85 311.50,322.69 311.75,322.52 312.01,322.35 312.26,322.17 312.52,321.97 312.77,321.77 313.03,321.56 313.28,321.33 313.53,321.10 313.79,320.85 314.04,320.60 314.30,320.33 314.55,320.05 314.81,319.76 315.06,319.46 315.32,319.14 315.57,318.81 315.82,318.47 316.08,318.11 316.33,317.74 316.59,317.36 316.84,316.97 317.10,316.56 317.35,316.14 317.61,315.70 317.86,315.25 318.12,314.79 318.37,314.31 318.62,313.82 318.88,313.31 319.13,312.80 319.39,312.27 319.64,311.72 319.90,311.17 320.15,310.60 320.41,310.02 320.66,309.43 320.91,308.82 321.17,308.21 321.42,307.59 321.68,306.96 321.93,306.31 322.19,305.67 322.44,305.01 322.70,304.34 322.95,303.67 323.21,303.00 323.46,302.32 323.71,301.64 323.97,300.95 324.22,300.26 324.48,299.58 324.73,298.89 324.99,298.20 325.24,297.52 325.50,296.84 325.75,296.16 326.01,295.49 326.26,294.83 326.51,294.17 326.77,293.53 327.02,292.89 327.28,292.26 327.53,291.65 327.79,291.05 328.04,290.47 328.30,289.90 328.55,289.35 328.80,288.82 329.06,288.30 329.31,287.81 329.57,287.34 329.82,286.89 330.08,286.46 330.33,286.06 330.59,285.68 330.84,285.33 331.10,285.00 331.35,284.70 331.60,284.43 331.86,284.18 332.11,283.97 332.37,283.78 332.62,283.63 332.88,283.50 333.13,283.41 333.39,283.34 333.64,283.31 333.89,283.20 334.15,283.20 334.40,283.20 334.66,283.20 334.91,283.20 335.17,283.20 335.42,283.20 335.68,283.20 335.93,283.20 336.19,283.20 336.44,283.20 336.69,283.20 336.95,283.20 337.20,283.20 337.46,283.20 337.71,283.20 337.97,283.20 338.22,283.20 338.48,283.20 338.73,283.20 338.98,283.20 339.24,283.20 339.49,283.20 339.75,283.20 340.00,283.20 340.26,283.20 340.51,283.20 340.77,283.20 341.02,283.20 341.28,283.31 341.53,283.48 341.78,283.85 342.04,284.42 342.29,285.19 342.55,286.14 342.80,287.25 343.06,288.52 343.31,289.92 343.57,291.44 343.82,293.05 344.08,294.74 344.33,296.49 344.58,298.26 344.84,300.06 345.09,301.85 345.35,303.62 345.60,305.36 345.86,307.05 346.11,308.68 346.37,310.23 346.62,311.71 346.87,313.10 347.13,314.41 347.38,315.62 347.64,316.73 347.89,317.76 348.15,318.69 348.40,319.54 348.66,320.29 348.91,320.97 349.17,321.58 349.42,322.11 349.67,322.58 349.93,322.98 350.18,323.34 350.44,323.64 350.69,323.90 350.95,324.13 351.20,324.32 351.46,324.48 351.71,324.61 351.96,324.72 352.22,324.81 352.47,324.89 352.73,324.95 352.98,325.00 353.24,325.04 353.49,325.08 353.75,325.10 354.00,325.12 354.26,325.14 354.51,325.15 354.76,325.17 355.02,325.17 355.27,325.18 355.53,325.18 355.78,325.19 356.04,325.19 356.29,325.19 356.55,325.20 356.80,325.20 357.06,325.20 357.31,325.20 357.56,325.20 357.82,325.20 358.07,325.20 358.33,325.20 358.58,325.20 358.84,325.20 359.09,325.20 359.35,325.20 359.60,325.20 359.85,325.20" fill="none" stroke="#f03232" stroke-width="1.1" stroke-linejoin="round" />
<line x1="297.5" y1="325.2" x2="424.5" y2="325.2" stroke="#d79a60" stroke-width="1.1"/>
<polyline points="297.50,325.20 297.75,325.20 298.01,325.20 298.26,325.20 298.52,325.20 298.77,325.20 299.03,325.20 299.28,325.20 299.54,325.20 299.79,325.20 300.05,325.20 300.30,325.20 300.55,325.20 300.81,325.20 301.06,325.20 301.32,325.20 301.57,325.20 301.83,325.20 302.08,325.20 302.34,325.20 302.59,325.20 302.84,325.20 303.10,325.20 303.35,325.20 303.61,325.20 303.86,325.20 304.12,325.20 304.37,325.20 304.63,325.20 304.88,325.20 305.14,325.20 305.39,325.20 305.64,325.20 305.90,325.20 306.15,325.20 306.41,325.20 306.66,325.20 306.92,325.20 307.17,325.20 307.43,325.20 307.68,325.20 307.93,325.20 308.19,325.20 308.44,325.20 308.70,325.20 308.95,325.20 309.21,325.20 309.46,325.20 309.72,325.20 309.97,325.20 310.23,325.20 310.48,325.20 310.73,325.20 310.99,325.20 311.24,325.20 311.50,325.20 311.75,325.20 312.01,325.20 312.26,325.20 312.52,325.20 312.77,325.20 313.03,325.20 313.28,325.20 313.53,325.20 313.79,325.20 314.04,325.20 314.30,325.20 314.55,325.20 314.81,325.20 315.06,325.20 315.32,325.20 315.57,325.20 315.82,325.20 316.08,325.20 316.33,325.20 316.59,325.20 316.84,325.20 317.10,325.20 317.35,325.20 317.61,325.20 317.86,325.20 318.12,325.20 318.37,325.20 318.62,325.20 318.88,325.20 319.13,325.20 319.39,325.20 319.64,325.20 319.90,325.20 320.15,325.20 320.41,325.20 320.66,325.20 320.91,325.20 321.17,325.20 321.42,325.20 321.68,325.20 321.93,325.20 322.19,325.20 322.44,325.20 322.70,325.20 322.95,325.20 323.21,325.20 323.46,325.20 323.71,325.20 323.97,325.20 324.22,325.20 324.48,325.20 324.73,325.20 324.99,325.20 325.24,325.20 325.50,325.20 325.75,325.20 326.01,325.20 326.26,325.20 326.51,325.20 326.77,325.20 327.02,325.20 327.28,325.20 327.53,325.20 327.79,325.20 328.04,325.20 328.30,325.20 328.55,325.20 328.80,325.20 329.06,325.20 329.31,325.20 329.57,325.20 329.82,325.20 330.08,325.20 330.33,325.20 330.59,325.20 330.84,325.20 331.10,325.19 331.35,325.19 331.60,325.19 331.86,325.18 332.11,325.18 332.37,325.17 332.62,325.16 332.88,325.14 333.13,325.12 333.39,325.10 333.64,325.07 333.89,325.03 334.15,324.98 334.40,324.91 334.66,324.84 334.91,324.74 335.17,324.62 335.42,324.48 335.68,324.31 335.93,324.12 336.19,323.88 336.44,323.61 336.69,323.30 336.95,322.94 337.20,322.54 337.46,322.09 337.71,321.59 337.97,321.04 338.22,320.45 338.48,319.82 338.73,319.14 338.98,318.44 339.24,317.71 339.49,316.96 339.75,316.21 340.00,315.47 340.26,314.74 340.51,314.05 340.77,313.41 341.02,312.82 341.28,312.30 341.53,311.87 341.78,311.52 342.04,311.28 342.29,311.14 342.55,311.10 342.80,311.18 343.06,311.36 343.31,311.64 343.57,312.02 343.82,312.49 344.08,313.03 344.33,313.64 344.58,314.31 344.84,315.01 345.09,315.75 345.35,316.49 345.60,317.24 345.86,317.98 346.11,318.71 346.37,319.40 346.62,320.06 346.87,320.68 347.13,321.26 347.38,321.79 347.64,322.27 347.89,322.70 348.15,323.08 348.40,323.42 348.66,323.72 348.91,323.98 349.17,324.20 349.42,324.38 349.67,324.54 349.93,324.67 350.18,324.78 350.44,324.87 350.69,324.94 350.95,325.00 351.20,325.04 351.46,325.08 351.71,325.11 351.96,325.13 352.22,325.15 352.47,325.16 352.73,325.17 352.98,325.18 353.24,325.19 353.49,325.19 353.75,325.19 354.00,325.19 354.26,325.20 354.51,325.20 354.76,325.20 355.02,325.20 355.27,325.20 355.53,325.20 355.78,325.20 356.04,325.20 356.29,325.20 356.55,325.20 356.80,325.20 357.06,325.20 357.31,325.20 357.56,325.20 357.82,325.20 358.07,325.20 358.33,325.20 358.58,325.20 358.84,325.20 359.09,325.20 359.35,325.20 359.60,325.20 359.85,325.20 360.11,325.20 360.36,325.20 360.62,325.20 360.87,325.20 361.13,325.20 361.38,325.20 361.64,325.20 361.89,325.20 362.15,325.20 362.40,325.20 362.65,325.20 362.91,325.20 363.16,325.20 363.42,325.20 363.67,325.20 363.93,325.20 364.18,325.20 364.44,325.20 364.69,325.20 364.94,325.20" fill="none" stroke="#4d4df0" stroke-width="1.1" stroke-linejoin="round" />
<polyline points="297.50,325.18 297.75,325.17 298.01,325.17 298.26,325.17 298.52,325.16 298.77,325.16 299.03,325.16 299.28,325.15 299.54,325.15 299.79,325.14 300.05,325.13 300.30,325.13 300.55,325.12 300.81,325.11 301.06,325.10 301.32,325.09 301.57,325.08 301.83,325.07 302.08,325.06 302.34,325.05 302.59,325.03 302.84,325.01 303.10,325.00 303.35,324.98 303.61,324.96 303.86,324.94 304.12,324.91 304.37,324.89 304.63,324.86 304.88,324.83 305.14,324.80 305.39,324.76 305.64,324.73 305.90,324.69 306.15,324.65 306.41,324.60 306.66,324.55 306.92,324.50 307.17,324.44 307.43,324.38 307.68,324.32 307.93,324.25 308.19,324.18 308.44,324.10 308.70,324.01 308.95,323.93 309.21,323.83 309.46,323.73 309.72,323.63 309.97,323.51 310.23,323.40 310.48,323.27 310.73,323.14 310.99,322.99 311.24,322.85 311.50,322.69 311.75,322.52 312.01,322.35 312.26,322.17 312.52,321.97 312.77,321.77 313.03,321.56 313.28,321.33 313.53,321.10 313.79,320.85 314.04,320.60 314.30,320.33 314.55,320.05 314.81,319.76 315.06,319.46 315.32,319.14 315.57,318.81 315.82,318.47 316.08,318.11 316.33,317.74 316.59,317.36 316.84,316.97 317.10,316.56 317.35,316.14 317.61,315.70 317.86,315.25 318.12,314.79 318.37,314.31 318.62,313.82 318.88,313.31 319.13,312.80 319.39,312.27 319.64,311.72 319.90,311.17 320.15,310.60 320.41,310.02 320.66,309.43 320.91,308.82 321.17,308.21 321.42,307.59 321.68,306.96 321.93,306.31 322.19,305.67 322.44,305.01 322.70,304.34 322.95,303.67 323.21,303.00 323.46,302.32 323.71,301.64 323.97,300.95 324.22,300.26 324.48,299.58 324.73,298.89 324.99,298.20 325.24,297.52 325.50,296.84 325.75,296.16 326.01,295.49 326.26,294.83 326.51,294.17 326.77,293.53 327.02,292.89 327.28,292.26 327.53,291.65 327.79,291.05 328.04,290.47 328.30,289.90 328.55,289.35 328.80,288.82 329.06,288.30 329.31,287.81 329.57,287.34 329.82,286.89 330.08,286.46 330.33,286.06 330.59,285.68 330.84,285.33 331.10,285.00 331.35,284.70 331.60,284.43 331.86,284.18 332.11,283.97 332.37,283.78 332.62,283.63 332.88,283.50 333.13,283.41 333.39,283.34 333.64,283.31 333.89,283.30 334.15,283.33 334.40,283.39 334.66,283.47 334.91,283.59 335.17,283.74 335.42,283.92 335.68,284.13 335.93,284.36 336.19,284.63 336.44,284.92 336.69,285.24 336.95,285.59 337.20,285.96 337.46,286.36 337.71,286.78 337.97,287.22 338.22,287.69 338.48,288.18 338.73,288.68 338.98,289.21 339.24,289.76 339.49,290.32 339.75,290.90 340.00,291.50 340.26,292.11 340.51,292.73 340.77,293.36 341.02,294.01 341.28,294.66 341.53,295.32 341.78,295.99 342.04,296.66 342.29,297.34 342.55,298.03 342.80,298.71 343.06,299.40 343.31,300.09 343.57,300.78 343.82,301.46 344.08,302.15 344.33,302.83 344.58,303.50 344.84,304.17 345.09,304.84 345.35,305.50 345.60,306.15 345.86,306.79 346.11,307.43 346.37,308.05 346.62,308.67 346.87,309.27 347.13,309.87 347.38,310.45 347.64,311.02 347.89,311.58 348.15,312.13 348.40,312.66 348.66,313.18 348.91,313.69 349.17,314.18 349.42,314.67 349.67,315.13 349.93,315.59 350.18,316.03 350.44,316.45 350.69,316.86 350.95,317.26 351.20,317.65 351.46,318.02 351.71,318.38 351.96,318.72 352.22,319.06 352.47,319.38 352.73,319.68 352.98,319.98 353.24,320.26 353.49,320.53 353.75,320.79 354.00,321.04 354.26,321.27 354.51,321.50 354.76,321.72 355.02,321.92 355.27,322.12 355.53,322.30 355.78,322.48 356.04,322.65 356.29,322.81 356.55,322.96 356.80,323.10 357.06,323.24 357.31,323.36 357.56,323.48 357.82,323.60 358.07,323.71 358.33,323.81 358.58,323.90 358.84,323.99 359.09,324.08 359.35,324.16 359.60,324.23 359.85,324.30 360.11,324.37 360.36,324.43 360.62,324.48 360.87,324.54 361.13,324.59 361.38,324.63 361.64,324.68 361.89,324.72 362.15,324.76 362.40,324.79 362.65,324.82 362.91,324.85 363.16,324.88 363.42,324.91 363.67,324.93 363.93,324.95 364.18,324.97 364.44,324.99 364.69,325.01 364.94,325.03 365.20,325.04 365.45,325.06 365.71,325.07 365.96,325.08 366.22,325.09 366.47,325.10 366.73,325.11 366.98,325.12 367.24,325.13 367.49,325.13 367.74,325.14 368.00,325.14 368.25,325.15 368.51,325.15 368.76,325.16 369.02,325.16 369.27,325.17 369.53,325.17 369.78,325.17 370.04,325.18 370.29,325.18 370.54,325.18 370.80,325.18 371.05,325.18 371.31,325.19 371.56,325.19 371.82,325.19 372.07,325.19 372.33,325.19 372.58,325.19 372.83,325.19 373.09,325.19 373.34,325.19 373.60,325.19 373.85,325.20 374.11,325.20 374.36,325.20 374.62,325.20 374.87,325.20 375.13,325.20 375.38,325.20 375.63,325.20 375.89,325.20 376.14,325.20 376.40,325.20 376.65,325.20 376.91,325.20 377.16,325.20 377.42,325.20 377.67,325.20 377.92,325.20 378.18,325.20 378.43,325.20 378.69,325.20 378.94,325.20 379.20,325.20 379.45,325.20 379.71,325.20 379.96,325.20 380.22,325.20 380.47,325.20 380.72,325.20 380.98,325.20 381.23,325.20 381.49,325.20 381.74,325.20 382.00,325.20 382.25,325.20 382.51,325.20 382.76,325.20 383.02,325.20 383.27,325.20 383.52,325.20 383.78,325.20 384.03,325.20 384.29,325.20 384.54,325.20 384.80,325.20 385.05,325.20 385.31,325.20 385.56,325.20 385.81,325.20 386.07,325.20 386.32,325.20 386.58,325.20 386.83,325.20 387.09,325.20 387.34,325.20 387.60,325.20 387.85,325.20 388.11,325.20 388.36,325.20 388.61,325.20 388.87,325.20 389.12,325.20 389.38,325.20 389.63,325.20 389.89,325.20 390.14,325.20 390.40,325.20 390.65,325.20 390.90,325.20 391.16,325.20 391.41,325.20 391.67,325.20 391.92,325.20 392.18,325.20 392.43,325.20 392.69,325.20 392.94,325.20 393.20,325.20 393.45,325.20 393.70,325.20 393.96,325.20 394.21,325.20 394.47,325.20 394.72,325.20 394.98,325.20 395.23,325.20 395.49,325.20 395.74,325.20 395.99,325.20 396.25,325.20 396.50,325.20 396.76,325.20 397.01,325.20 397.27,325.20 397.52,325.20 397.78,325.20 398.03,325.20 398.29,325.20 398.54,325.20 398.79,325.20 399.05,325.20 399.30,325.20 399.56,325.20 399.81,325.20 400.07,325.20 400.32,325.20 400.58,325.20 400.83,325.20 401.09,325.20 401.34,325.20 401.59,325.20 401.85,325.20 402.10,325.20 402.36,325.20 402.61,325.20 402.87,325.20 403.12,325.20 403.38,325.20 403.63,325.20 403.88,325.20 404.14,325.20 404.39,325.20 404.65,325.20 404.90,325.20 405.16,325.20 405.41,325.20 405.67,325.20 405.92,325.20 406.18,325.20 406.43,325.20 406.68,325.20 406.94,325.20 407.19,325.20 407.45,325.20 407.70,325.20 407.96,325.20 408.21,325.20 408.47,325.20 408.72,325.20 408.97,325.20 409.23,325.20 409.48,325.20 409.74,325.20 409.99,325.20 410.25,325.20 410.50,325.20 410.76,325.20 411.01,325.20 411.27,325.20 411.52,325.20 411.77,325.20 412.03,325.20 412.28,325.20 412.54,325.20 412.79,325.20 413.05,325.20 413.30,325.20 413.56,325.20 413.81,325.20 414.07,325.20 414.32,325.20 414.57,325.20 414.83,325.20 415.08,325.20 415.34,325.20 415.59,325.20 415.85,325.20 416.10,325.20 416.36,325.20 416.61,325.20 416.86,325.20 417.12,325.20 417.37,325.20 417.63,325.20 417.88,325.20 418.14,325.20 418.39,325.20 418.65,325.20 418.90,325.20 419.16,325.20 419.41,325.20 419.66,325.20 419.92,325.20 420.17,325.20 420.43,325.20 420.68,325.20 420.94,325.20 421.19,325.20 421.45,325.20 421.70,325.20 421.95,325.20 422.21,325.20 422.46,325.20 422.72,325.20 422.97,325.20 423.23,325.20 423.48,325.20 423.74,325.20 423.99,325.20 424.25,325.20 424.50,325.20" fill="none" stroke="#e0922e" stroke-width="1.1" stroke-linejoin="round" />
<polyline points="338.50,324.50 338.77,324.19 339.11,323.79 339.51,323.32 339.97,322.78 340.46,322.21 340.97,321.62 341.49,321.02 342.02,320.44 342.52,319.90 343.00,319.40 343.46,318.93 343.93,318.46 344.40,317.98 344.87,317.52 345.34,317.06 345.82,316.63 346.29,316.22 346.76,315.84 347.23,315.50 347.70,315.20 348.16,314.95 348.60,314.75 349.03,314.60 349.46,314.47 349.89,314.37 350.34,314.28 350.79,314.20 351.27,314.11 351.77,314.02 352.30,313.90 352.86,313.78 353.45,313.69 354.06,313.60 354.68,313.52 355.32,313.43 355.98,313.33 356.65,313.20 357.33,313.05 358.01,312.85 358.70,312.60 359.40,312.31 360.12,312.00 360.85,311.65 361.59,311.28 362.34,310.88 363.09,310.45 363.85,309.99 364.60,309.49 365.36,308.96 366.10,308.40 366.84,307.78 367.58,307.10 368.32,306.36 369.06,305.58 369.80,304.79 370.54,303.98 371.28,303.19 372.02,302.42 372.76,301.68 373.50,301.00 374.24,300.37 374.98,299.78 375.72,299.21 376.46,298.67 377.20,298.14 377.94,297.61 378.68,297.08 379.42,296.54 380.16,295.98 380.90,295.40 381.65,294.80 382.42,294.19 383.21,293.57 383.99,292.95 384.77,292.31 385.54,291.67 386.29,291.02 387.00,290.36 387.67,289.68 388.30,289.00 388.87,288.32 389.40,287.64 389.89,286.97 390.34,286.29 390.78,285.59 391.19,284.87 391.61,284.12 392.02,283.33 392.45,282.49 392.90,281.60 393.37,280.62 393.85,279.55 394.34,278.41 394.83,277.23 395.31,276.03 395.79,274.82 396.25,273.65 396.70,272.52 397.11,271.46 397.50,270.50 397.85,269.65 398.18,268.91 398.48,268.24 398.75,267.62 399.02,267.02 399.27,266.43 399.52,265.80 399.78,265.12 400.03,264.36 400.30,263.50 400.57,262.55 400.84,261.54 401.10,260.48 401.36,259.37 401.62,258.22 401.89,257.03 402.15,255.81 402.43,254.56 402.71,253.29 403.00,252.00 403.31,250.66 403.63,249.24 403.96,247.77 404.30,246.26 404.64,244.73 404.98,243.21 405.31,241.71 405.64,240.24 405.95,238.83 406.25,237.50 406.53,236.26 406.79,235.09 407.03,233.98 407.27,232.91 407.50,231.86 407.73,230.81 407.97,229.74 408.21,228.64 408.47,227.48 408.75,226.25 409.04,224.94 409.34,223.58 409.65,222.16 409.96,220.72 410.28,219.25 410.61,217.77 410.95,216.30 411.29,214.83 411.64,213.40 412.00,212.00 412.37,210.62 412.74,209.25 413.13,207.87 413.52,206.51 413.92,205.16 414.33,203.82 414.74,202.51 415.16,201.22 415.58,199.97 416.00,198.75 416.43,197.57 416.87,196.44 417.31,195.33 417.76,194.26 418.22,193.20 418.68,192.16 419.13,191.13 419.59,190.09 420.05,189.05 420.50,188.00 420.95,186.94 421.41,185.88 421.87,184.83 422.34,183.78 422.80,182.73 423.25,181.69 423.71,180.64 424.15,179.60 424.58,178.55 425.00,177.50 425.41,176.43 425.80,175.33 426.18,174.21 426.55,173.08 426.92,171.97 427.29,170.88 427.65,169.82 428.01,168.81 428.38,167.87 428.75,167.00 429.12,166.22 429.48,165.54 429.84,164.92 430.19,164.35 430.55,163.81 430.91,163.29 431.28,162.77 431.67,162.22 432.07,161.64 432.50,161.00 432.97,160.28 433.50,159.48 434.07,158.62 434.65,157.75 435.23,156.88 435.80,156.03 436.33,155.25 436.80,154.54 437.20,153.95 437.50,153.50" fill="none" stroke="#f03232" stroke-width="1.15" stroke-dasharray="1.3,1.5" stroke-linejoin="round" />
</g>
<text x="330.6" y="274.8" font-size="8.8" fill="#222">X<tspan font-size="6.3" dy="3.1" dx="0.4">i</tspan></text>
<text x="342.0" y="274.8" font-size="8.8" fill="#222">X<tspan font-size="6.3" dy="3.1" dx="0.4">d</tspan></text>
<line x1="333.9" y1="277.2" x2="333.9" y2="279.5" stroke="#3d4d6b" stroke-width="0.9"/><path d="M332.4,278.6 L333.9,281.8 L335.4,278.6 Q333.9,279.3 332.4,278.6 Z" fill="#3d4d6b"/>
<line x1="342.0" y1="277.2" x2="342.0" y2="279.5" stroke="#3d4d6b" stroke-width="0.9"/><path d="M340.5,278.6 L342.0,281.8 L343.5,278.6 Q342.0,279.3 340.5,278.6 Z" fill="#3d4d6b"/>
<text x="459.6" y="9.3" font-size="12.5" font-weight="bold" fill="#000" stroke="#000" stroke-width="0.5">d</text>
<rect x="495.8" y="6.6" width="181" height="180.6" fill="none" stroke="#7a7a7a" stroke-width="0.9"/>
<line x1="495.8" y1="25" x2="498.8" y2="25" stroke="#7a7a7a" stroke-width="0.9"/>
<text x="492.4" y="27.7" font-size="7.6" text-anchor="end" fill="#333" >1</text>
<line x1="495.8" y1="93" x2="498.8" y2="93" stroke="#7a7a7a" stroke-width="0.9"/>
<text x="492.4" y="95.7" font-size="7.6" text-anchor="end" fill="#333" >0.1</text>
<line x1="495.8" y1="161.25" x2="498.8" y2="161.25" stroke="#7a7a7a" stroke-width="0.9"/>
<text x="492.4" y="163.95" font-size="7.6" text-anchor="end" fill="#333" >0.01</text>
<line x1="503.25" y1="187.2" x2="503.25" y2="184.3" stroke="#7a7a7a" stroke-width="0.9"/>
<text x="503.25" y="197.7" font-size="7.6" text-anchor="middle" fill="#333" >0</text>
<line x1="536.75" y1="187.2" x2="536.75" y2="184.3" stroke="#7a7a7a" stroke-width="0.9"/>
<text x="536.75" y="197.7" font-size="7.6" text-anchor="middle" fill="#333" >200</text>
<line x1="570.25" y1="187.2" x2="570.25" y2="184.3" stroke="#7a7a7a" stroke-width="0.9"/>
<text x="570.25" y="197.7" font-size="7.6" text-anchor="middle" fill="#333" >400</text>
<line x1="603.75" y1="187.2" x2="603.75" y2="184.3" stroke="#7a7a7a" stroke-width="0.9"/>
<text x="603.75" y="197.7" font-size="7.6" text-anchor="middle" fill="#333" >600</text>
<line x1="637.25" y1="187.2" x2="637.25" y2="184.3" stroke="#7a7a7a" stroke-width="0.9"/>
<text x="637.25" y="197.7" font-size="7.6" text-anchor="middle" fill="#333" >800</text>
<line x1="670.75" y1="187.2" x2="670.75" y2="184.3" stroke="#7a7a7a" stroke-width="0.9"/>
<text x="670.75" y="197.7" font-size="7.6" text-anchor="middle" fill="#333" >1,000</text>
<text x="586.25" y="210.5" font-size="8.8" text-anchor="middle" fill="#222" textLength="36.5" lengthAdjust="spacingAndGlyphs">Time (ns)</text>
<text x="469.9" y="97" font-size="8.8" text-anchor="middle" fill="#222" transform="rotate(-90 469.9 97)" textLength="67.5" lengthAdjust="spacingAndGlyphs">PL intensity (a.u.)</text>
<polygon points="500.00,21.00 500.03,20.78 500.04,20.49 500.06,20.14 500.13,19.76 500.27,19.37 500.50,19.00 500.86,18.61 501.31,18.17 501.84,17.72 502.41,17.32 502.97,17.00 503.50,16.80 504.01,16.69 504.54,16.64 505.06,16.66 505.57,16.81 506.06,17.11 506.50,17.60 506.90,18.33 507.26,19.28 507.59,20.38 507.91,21.58 508.21,22.80 508.50,24.00 508.74,25.21 508.91,26.48 509.06,27.79 509.26,29.09 509.55,30.34 510.00,31.50 510.63,32.59 511.41,33.63 512.28,34.63 513.20,35.58 514.13,36.47 515.00,37.30 515.83,38.06 516.67,38.75 517.50,39.39 518.33,39.98 519.17,40.55 520.00,41.10 520.83,41.62 521.67,42.09 522.50,42.54 523.33,42.97 524.17,43.42 525.00,43.90 525.83,44.42 526.67,44.97 527.50,45.52 528.33,46.08 529.17,46.61 530.00,47.10 530.83,47.56 531.67,48.00 532.50,48.42 533.33,48.81 534.17,49.17 535.00,49.50 535.83,49.78 536.67,50.02 537.50,50.22 538.33,50.41 539.17,50.60 540.00,50.80 540.83,51.00 541.67,51.19 542.50,51.38 543.33,51.57 544.17,51.78 545.00,52.00 545.82,52.24 546.63,52.49 547.44,52.75 548.26,53.02 549.11,53.31 550.00,53.60 550.91,53.89 551.81,54.19 552.75,54.49 553.74,54.81 554.81,55.18 556.00,55.60 557.31,56.10 558.74,56.68 560.25,57.30 561.81,57.92 563.41,58.50 565.00,59.00 566.61,59.41 568.26,59.75 569.94,60.06 571.63,60.35 573.32,60.65 575.00,61.00 576.67,61.38 578.33,61.79 580.00,62.20 581.67,62.63 583.33,63.06 585.00,63.50 586.67,63.96 588.33,64.44 590.00,64.94 591.67,65.42 593.33,65.88 595.00,66.30 596.67,66.67 598.33,67.01 600.00,67.32 601.67,67.62 603.33,67.91 605.00,68.20 606.63,68.48 608.22,68.74 609.81,68.99 611.44,69.25 613.16,69.51 615.00,69.80 617.00,70.11 619.15,70.45 621.38,70.79 623.63,71.14 625.86,71.48 628.00,71.80 630.08,72.10 632.15,72.39 634.19,72.67 636.19,72.94 638.13,73.22 640.00,73.50 641.78,73.78 643.48,74.06 645.12,74.34 646.74,74.63 648.36,74.91 650.00,75.20 651.67,75.49 653.33,75.79 655.00,76.08 656.67,76.38 658.33,76.69 660.00,77.00 661.73,77.33 663.54,77.67 665.34,78.02 667.07,78.36 668.65,78.69 670.00,79.00 671.12,79.30 672.07,79.59 672.88,79.88 673.54,80.13 674.07,80.34 674.50,80.50 674.50,108.50 674.07,108.52 673.54,108.56 672.88,108.61 672.07,108.63 671.12,108.60 670.00,108.50 668.65,108.32 667.07,108.07 665.34,107.78 663.54,107.45 661.73,107.12 660.00,106.80 658.33,106.49 656.67,106.17 655.00,105.85 653.33,105.51 651.67,105.17 650.00,104.80 648.28,104.39 646.48,103.94 644.69,103.47 642.96,103.02 641.38,102.62 640.00,102.30 638.88,102.09 637.96,101.97 637.19,101.91 636.48,101.85 635.78,101.76 635.00,101.60 634.17,101.35 633.33,101.04 632.50,100.71 631.67,100.37 630.83,100.05 630.00,99.80 629.17,99.62 628.33,99.49 627.50,99.39 626.67,99.30 625.83,99.17 625.00,99.00 624.17,98.75 623.33,98.46 622.50,98.13 621.67,97.81 620.83,97.52 620.00,97.30 619.17,97.15 618.33,97.06 617.50,96.99 616.67,96.94 615.83,96.89 615.00,96.80 614.17,96.71 613.33,96.63 612.50,96.54 611.67,96.43 610.83,96.25 610.00,96.00 609.17,95.62 608.33,95.14 607.50,94.59 606.67,94.05 605.83,93.57 605.00,93.20 604.17,92.96 603.33,92.79 602.50,92.69 601.67,92.62 600.83,92.56 600.00,92.50 599.17,92.47 598.33,92.49 597.50,92.53 596.67,92.54 595.83,92.48 595.00,92.30 594.17,91.97 593.33,91.52 592.50,90.99 591.67,90.45 590.83,89.93 590.00,89.50 589.17,89.15 588.33,88.86 587.50,88.59 586.67,88.33 585.83,88.08 585.00,87.80 584.17,87.49 583.33,87.16 582.50,86.82 581.67,86.50 580.83,86.22 580.00,86.00 579.17,85.88 578.33,85.84 577.50,85.85 576.67,85.84 575.83,85.78 575.00,85.60 574.17,85.29 573.33,84.89 572.50,84.43 571.67,83.94 570.83,83.45 570.00,83.00 569.17,82.56 568.33,82.10 567.50,81.65 566.67,81.22 565.83,80.83 565.00,80.50 564.17,80.26 563.33,80.11 562.50,79.99 561.67,79.88 560.83,79.73 560.00,79.50 559.17,79.16 558.33,78.74 557.50,78.28 556.67,77.82 555.83,77.41 555.00,77.10 554.17,76.93 553.33,76.87 552.50,76.87 551.67,76.85 550.83,76.75 550.00,76.50 549.17,76.07 548.33,75.49 547.50,74.84 546.67,74.16 545.83,73.53 545.00,73.00 544.17,72.61 543.33,72.31 542.50,72.06 541.67,71.79 540.83,71.45 540.00,71.00 539.17,70.39 538.33,69.65 537.50,68.85 536.67,68.04 535.83,67.27 535.00,66.60 534.17,66.04 533.33,65.53 532.50,65.07 531.67,64.64 530.83,64.22 530.00,63.80 529.17,63.38 528.33,62.97 527.50,62.57 526.67,62.19 525.83,61.80 525.00,61.40 524.17,61.02 523.33,60.66 522.50,60.30 521.67,59.92 520.83,59.49 520.00,59.00 519.17,58.45 518.33,57.87 517.50,57.24 516.67,56.56 515.83,55.81 515.00,55.00 514.17,54.08 513.33,53.04 512.50,51.94 511.67,50.83 510.83,49.77 510.00,48.80 509.13,47.95 508.22,47.17 507.31,46.44 506.44,45.72 505.66,44.98 505.00,44.20 504.50,43.38 504.15,42.54 503.88,41.69 503.63,40.81 503.36,39.92 503.00,39.00 502.52,37.98 501.96,36.84 501.38,35.67 500.81,34.59 500.34,33.66 500.00,33.00" fill="#aaaaaa" stroke="#aaaaaa" stroke-width="0.8"/>
<circle cx="640.8" cy="101.6" r="3.3" fill="none" stroke="#a2a2a2" stroke-width="0.8"/>
<circle cx="594.5" cy="89.6" r="3.3" fill="none" stroke="#a2a2a2" stroke-width="0.8"/>
<circle cx="520.6" cy="57.2" r="3.3" fill="none" stroke="#a2a2a2" stroke-width="0.8"/>
<circle cx="577.4" cy="82.6" r="3.3" fill="none" stroke="#a2a2a2" stroke-width="0.8"/>
<circle cx="519.8" cy="58.5" r="3.3" fill="none" stroke="#a2a2a2" stroke-width="0.8"/>
<circle cx="616.4" cy="94.3" r="3.3" fill="none" stroke="#a2a2a2" stroke-width="0.8"/>
<circle cx="581.6" cy="86.2" r="3.3" fill="none" stroke="#a2a2a2" stroke-width="0.8"/>
<circle cx="655.6" cy="105.2" r="3.3" fill="none" stroke="#a2a2a2" stroke-width="0.8"/>
<circle cx="574.8" cy="83.7" r="3.3" fill="none" stroke="#a2a2a2" stroke-width="0.8"/>
<circle cx="620.3" cy="94.3" r="3.3" fill="none" stroke="#a2a2a2" stroke-width="0.8"/>
<circle cx="600.9" cy="90.1" r="3.3" fill="none" stroke="#a2a2a2" stroke-width="0.8"/>
<circle cx="652.7" cy="102.2" r="3.3" fill="none" stroke="#a2a2a2" stroke-width="0.8"/>
<circle cx="620.7" cy="96.8" r="3.3" fill="none" stroke="#a2a2a2" stroke-width="0.8"/>
<circle cx="548.4" cy="74.7" r="3.3" fill="none" stroke="#a2a2a2" stroke-width="0.8"/>
<circle cx="651.6" cy="101.9" r="3.3" fill="none" stroke="#a2a2a2" stroke-width="0.8"/>
<circle cx="625.2" cy="95.7" r="3.3" fill="none" stroke="#a2a2a2" stroke-width="0.8"/>
<circle cx="592.5" cy="88.9" r="3.3" fill="none" stroke="#a2a2a2" stroke-width="0.8"/>
<circle cx="544.5" cy="70.5" r="3.3" fill="none" stroke="#a2a2a2" stroke-width="0.8"/>
<circle cx="641.0" cy="100.2" r="3.3" fill="none" stroke="#a2a2a2" stroke-width="0.8"/>
<circle cx="535.8" cy="66.1" r="3.3" fill="none" stroke="#a2a2a2" stroke-width="0.8"/>
<circle cx="583.8" cy="86.5" r="3.3" fill="none" stroke="#a2a2a2" stroke-width="0.8"/>
<circle cx="549.7" cy="73.9" r="3.3" fill="none" stroke="#a2a2a2" stroke-width="0.8"/>
<circle cx="640.0" cy="100.5" r="3.3" fill="none" stroke="#a2a2a2" stroke-width="0.8"/>
<circle cx="593.0" cy="88.6" r="3.3" fill="none" stroke="#a2a2a2" stroke-width="0.8"/>
<circle cx="514.3" cy="53.7" r="3.3" fill="none" stroke="#a2a2a2" stroke-width="0.8"/>
<circle cx="525.7" cy="61.0" r="3.3" fill="none" stroke="#a2a2a2" stroke-width="0.8"/>
<circle cx="570.9" cy="83.0" r="3.3" fill="none" stroke="#a2a2a2" stroke-width="0.8"/>
<circle cx="575.9" cy="85.2" r="3.3" fill="none" stroke="#a2a2a2" stroke-width="0.8"/>
<circle cx="601.0" cy="90.1" r="3.3" fill="none" stroke="#a2a2a2" stroke-width="0.8"/>
<circle cx="630.6" cy="98.7" r="3.3" fill="none" stroke="#a2a2a2" stroke-width="0.8"/>
<circle cx="621.5" cy="95.9" r="3.3" fill="none" stroke="#a2a2a2" stroke-width="0.8"/>
<circle cx="547.5" cy="73.4" r="3.3" fill="none" stroke="#a2a2a2" stroke-width="0.8"/>
<circle cx="529.1" cy="62.2" r="3.3" fill="none" stroke="#a2a2a2" stroke-width="0.8"/>
<circle cx="613.7" cy="94.4" r="3.3" fill="none" stroke="#a2a2a2" stroke-width="0.8"/>
<circle cx="639.8" cy="99.5" r="3.3" fill="none" stroke="#a2a2a2" stroke-width="0.8"/>
<circle cx="574.5" cy="84.4" r="3.3" fill="none" stroke="#a2a2a2" stroke-width="0.8"/>
<circle cx="572.9" cy="83.3" r="3.3" fill="none" stroke="#a2a2a2" stroke-width="0.8"/>
<circle cx="610.0" cy="95.5" r="3.3" fill="none" stroke="#a2a2a2" stroke-width="0.8"/>
<circle cx="670.7" cy="107.4" r="3.3" fill="none" stroke="#a2a2a2" stroke-width="0.8"/>
<circle cx="641.4" cy="99.8" r="3.3" fill="none" stroke="#a2a2a2" stroke-width="0.8"/>
<circle cx="626.1" cy="98.4" r="3.3" fill="none" stroke="#a2a2a2" stroke-width="0.8"/>
<circle cx="576.2" cy="84.1" r="3.3" fill="none" stroke="#a2a2a2" stroke-width="0.8"/>
<circle cx="588.7" cy="88.6" r="3.3" fill="none" stroke="#a2a2a2" stroke-width="0.8"/>
<circle cx="562.8" cy="78.0" r="3.3" fill="none" stroke="#a2a2a2" stroke-width="0.8"/>
<circle cx="512.1" cy="49.4" r="3.3" fill="none" stroke="#a2a2a2" stroke-width="0.8"/>
<circle cx="613.0" cy="96.0" r="3.3" fill="none" stroke="#a2a2a2" stroke-width="0.8"/>
<circle cx="659.8" cy="104.4" r="3.3" fill="none" stroke="#a2a2a2" stroke-width="0.8"/>
<circle cx="670.2" cy="105.8" r="3.3" fill="none" stroke="#a2a2a2" stroke-width="0.8"/>
<circle cx="643.7" cy="100.4" r="3.3" fill="none" stroke="#a2a2a2" stroke-width="0.8"/>
<circle cx="576.8" cy="82.7" r="3.3" fill="none" stroke="#a2a2a2" stroke-width="0.8"/>
<circle cx="649.3" cy="103.8" r="3.3" fill="none" stroke="#a2a2a2" stroke-width="0.8"/>
<circle cx="534.4" cy="64.5" r="3.3" fill="none" stroke="#a2a2a2" stroke-width="0.8"/>
<circle cx="553.3" cy="75.1" r="3.3" fill="none" stroke="#a2a2a2" stroke-width="0.8"/>
<circle cx="600.5" cy="89.6" r="3.3" fill="none" stroke="#a2a2a2" stroke-width="0.8"/>
<circle cx="650.3" cy="102.4" r="3.3" fill="none" stroke="#a2a2a2" stroke-width="0.8"/>
<circle cx="583.5" cy="84.1" r="3.3" fill="none" stroke="#a2a2a2" stroke-width="0.8"/>
<circle cx="512.4" cy="49.1" r="3.3" fill="none" stroke="#a2a2a2" stroke-width="0.8"/>
<circle cx="566.7" cy="80.8" r="3.3" fill="none" stroke="#a2a2a2" stroke-width="0.8"/>
<circle cx="654.4" cy="103.8" r="3.3" fill="none" stroke="#a2a2a2" stroke-width="0.8"/>
<circle cx="584.8" cy="86.4" r="3.3" fill="none" stroke="#a2a2a2" stroke-width="0.8"/>
<circle cx="649.4" cy="102.4" r="3.3" fill="none" stroke="#a2a2a2" stroke-width="0.8"/>
<circle cx="639.0" cy="100.1" r="3.3" fill="none" stroke="#a2a2a2" stroke-width="0.8"/>
<circle cx="607.0" cy="93.3" r="3.3" fill="none" stroke="#a2a2a2" stroke-width="0.8"/>
<circle cx="592.2" cy="89.5" r="3.3" fill="none" stroke="#a2a2a2" stroke-width="0.8"/>
<circle cx="623.6" cy="95.2" r="3.3" fill="none" stroke="#a2a2a2" stroke-width="0.8"/>
<circle cx="535.5" cy="52.4" r="3.3" fill="#aaaaaa" stroke="#a2a2a2" stroke-width="0.8"/>
<circle cx="559.9" cy="59.9" r="3.3" fill="#aaaaaa" stroke="#a2a2a2" stroke-width="0.8"/>
<circle cx="536.9" cy="52.8" r="3.3" fill="#aaaaaa" stroke="#a2a2a2" stroke-width="0.8"/>
<circle cx="614.1" cy="73.3" r="3.3" fill="#aaaaaa" stroke="#a2a2a2" stroke-width="0.8"/>
<circle cx="578.9" cy="65.0" r="3.3" fill="#aaaaaa" stroke="#a2a2a2" stroke-width="0.8"/>
<circle cx="588.3" cy="67.9" r="3.3" fill="#aaaaaa" stroke="#a2a2a2" stroke-width="0.8"/>
<circle cx="639.9" cy="77.2" r="3.3" fill="#aaaaaa" stroke="#a2a2a2" stroke-width="0.8"/>
<circle cx="582.6" cy="66.3" r="3.3" fill="#aaaaaa" stroke="#a2a2a2" stroke-width="0.8"/>
<circle cx="577.8" cy="65.3" r="3.3" fill="#aaaaaa" stroke="#a2a2a2" stroke-width="0.8"/>
<circle cx="562.3" cy="61.6" r="3.3" fill="#aaaaaa" stroke="#a2a2a2" stroke-width="0.8"/>
<circle cx="600.7" cy="70.9" r="3.3" fill="#aaaaaa" stroke="#a2a2a2" stroke-width="0.8"/>
<circle cx="604.9" cy="71.2" r="3.3" fill="#aaaaaa" stroke="#a2a2a2" stroke-width="0.8"/>
<circle cx="599.2" cy="69.8" r="3.3" fill="#aaaaaa" stroke="#a2a2a2" stroke-width="0.8"/>
<circle cx="536.0" cy="53.0" r="3.3" fill="#aaaaaa" stroke="#a2a2a2" stroke-width="0.8"/>
<circle cx="596.8" cy="70.2" r="3.3" fill="#aaaaaa" stroke="#a2a2a2" stroke-width="0.8"/>
<circle cx="532.8" cy="51.7" r="3.3" fill="#aaaaaa" stroke="#a2a2a2" stroke-width="0.8"/>
<circle cx="597.9" cy="96.6" r="3.3" fill="none" stroke="#a6a6a6" stroke-width="0.9"/>
<circle cx="587.7" cy="91.2" r="3.3" fill="none" stroke="#a6a6a6" stroke-width="0.9"/>
<circle cx="607.3" cy="96.3" r="3.3" fill="none" stroke="#a6a6a6" stroke-width="0.9"/>
<circle cx="652.5" cy="107.3" r="3.3" fill="none" stroke="#a6a6a6" stroke-width="0.9"/>
<circle cx="657.5" cy="108.3" r="3.3" fill="none" stroke="#a6a6a6" stroke-width="0.9"/>
<circle cx="644.5" cy="106" r="3.3" fill="none" stroke="#a6a6a6" stroke-width="0.9"/>
<circle cx="530" cy="67.5" r="3.3" fill="none" stroke="#a6a6a6" stroke-width="0.9"/>
<circle cx="541" cy="72.5" r="3.3" fill="none" stroke="#a6a6a6" stroke-width="0.9"/>
<circle cx="563" cy="81.5" r="3.3" fill="none" stroke="#a6a6a6" stroke-width="0.9"/>
<circle cx="620" cy="98.8" r="3.3" fill="none" stroke="#a6a6a6" stroke-width="0.9"/>
<circle cx="632" cy="102.5" r="3.3" fill="none" stroke="#a6a6a6" stroke-width="0.9"/>
<circle cx="503.2" cy="63.8" r="3.3" fill="none" stroke="#a6a6a6" stroke-width="0.9"/>
<circle cx="503.2" cy="93" r="3.3" fill="none" stroke="#a6a6a6" stroke-width="0.9"/>
<circle cx="502" cy="155" r="3.3" fill="none" stroke="#a6a6a6" stroke-width="0.9"/>
<circle cx="501.5" cy="166.7" r="3.3" fill="none" stroke="#a6a6a6" stroke-width="0.9"/>
<circle cx="503.7" cy="170.5" r="3.3" fill="none" stroke="#a6a6a6" stroke-width="0.9"/>
<circle cx="503" cy="176.7" r="3.3" fill="none" stroke="#a6a6a6" stroke-width="0.9"/>
<circle cx="669.7" cy="114.7" r="3.3" fill="none" stroke="#a6a6a6" stroke-width="0.9"/>
<circle cx="502.5" cy="37" r="3.3" fill="none" stroke="#a6a6a6" stroke-width="0.9"/>
<circle cx="502.8" cy="41.5" r="3.3" fill="none" stroke="#a6a6a6" stroke-width="0.9"/>
<polyline points="503.40,25.52 504.10,27.83 504.80,30.00 505.49,32.04 506.19,33.93 506.89,35.69 507.59,37.33 508.29,38.83 508.98,40.21 509.68,41.49 510.38,42.65 511.08,43.72 511.77,44.69 512.47,45.58 513.17,46.39 513.87,47.13 514.57,47.81 515.26,48.43 515.96,49.00 516.66,49.52 517.36,50.00 518.06,50.44 518.75,50.86 519.45,51.24 520.15,51.60 520.85,51.93 521.55,52.25 522.24,52.55 522.94,52.83 523.64,53.10 524.34,53.36 525.04,53.61 525.73,53.84 526.43,54.08 527.13,54.30 527.83,54.52 528.52,54.73 529.22,54.94 529.92,55.14 530.62,55.34 531.32,55.54 532.01,55.73 532.71,55.93 533.41,56.12 534.11,56.31 534.81,56.49 535.50,56.68 536.20,56.86 536.90,57.05 537.60,57.23 538.30,57.41 538.99,57.59 539.69,57.77 540.39,57.95 541.09,58.13 541.78,58.31 542.48,58.49 543.18,58.67 543.88,58.85 544.58,59.02 545.27,59.20 545.97,59.38 546.67,59.56 547.37,59.74 548.07,59.91 548.76,60.09 549.46,60.27 550.16,60.44 550.86,60.62 551.56,60.80 552.25,60.98 552.95,61.15 553.65,61.33 554.35,61.51 555.05,61.68 555.74,61.86 556.44,62.04 557.14,62.21 557.84,62.39 558.53,62.57 559.23,62.74 559.93,62.92 560.63,63.10 561.33,63.27 562.02,63.45 562.72,63.63 563.42,63.80 564.12,63.98 564.82,64.15 565.51,64.33 566.21,64.51 566.91,64.68 567.61,64.86 568.31,65.04 569.00,65.21 569.70,65.39 570.40,65.57 571.10,65.74 571.79,65.92 572.49,66.10 573.19,66.27 573.89,66.45 574.59,66.63 575.28,66.80 575.98,66.98 576.68,67.16 577.38,67.33 578.08,67.51 578.77,67.69 579.47,67.86 580.17,68.04 580.87,68.22 581.57,68.39 582.26,68.57 582.96,68.75 583.66,68.92 584.36,69.10 585.06,69.27 585.75,69.45 586.45,69.63 587.15,69.80 587.85,69.98 588.54,70.16 589.24,70.33 589.94,70.51 590.64,70.69 591.34,70.86 592.03,71.04 592.73,71.22 593.43,71.39 594.13,71.57 594.83,71.75 595.52,71.92 596.22,72.10 596.92,72.28 597.62,72.45 598.32,72.63 599.01,72.81 599.71,72.98 600.41,73.16 601.11,73.34 601.81,73.51 602.50,73.69 603.20,73.86 603.90,74.04 604.60,74.22 605.29,74.39 605.99,74.57 606.69,74.75 607.39,74.92 608.09,75.10 608.78,75.28 609.48,75.45 610.18,75.63 610.88,75.81 611.58,75.98 612.27,76.16 612.97,76.34 613.67,76.51 614.37,76.69 615.07,76.87 615.76,77.04 616.46,77.22 617.16,77.40 617.86,77.57 618.55,77.75 619.25,77.93 619.95,78.10 620.65,78.28 621.35,78.45 622.04,78.63 622.74,78.81 623.44,78.98 624.14,79.16 624.84,79.34 625.53,79.51 626.23,79.69 626.93,79.87 627.63,80.04 628.33,80.22 629.02,80.40 629.72,80.57 630.42,80.75 631.12,80.93 631.82,81.10 632.51,81.28 633.21,81.46 633.91,81.63 634.61,81.81 635.30,81.99 636.00,82.16 636.70,82.34 637.40,82.52 638.10,82.69 638.79,82.87 639.49,83.04 640.19,83.22 640.89,83.40 641.59,83.57 642.28,83.75 642.98,83.93 643.68,84.10 644.38,84.28 645.08,84.46 645.77,84.63 646.47,84.81 647.17,84.99 647.87,85.16 648.56,85.34 649.26,85.52 649.96,85.69 650.66,85.87 651.36,86.05 652.05,86.22 652.75,86.40 653.45,86.58 654.15,86.75 654.85,86.93 655.54,87.11 656.24,87.28 656.94,87.46 657.64,87.63 658.34,87.81 659.03,87.99 659.73,88.16 660.43,88.34 661.13,88.52 661.83,88.69 662.52,88.87 663.22,89.05 663.92,89.22 664.62,89.40 665.31,89.58 666.01,89.75 666.71,89.93 667.41,90.11 668.11,90.28 668.80,90.46 669.50,90.64 670.20,90.81" fill="none" stroke="#e81414" stroke-width="1.4" stroke-linejoin="round" />
<circle cx="636.5" cy="19.5" r="3.4" fill="none" stroke="#a0a0a0" stroke-width="0.9"/>
<text x="649" y="22.6" font-size="8.6" text-anchor="start" fill="#222" textLength="17.5" lengthAdjust="spacingAndGlyphs">Data</text>
<line x1="630" y1="31.5" x2="644" y2="31.5" stroke="#e81414" stroke-width="1.4"/>
<text x="649" y="34.6" font-size="8.6" text-anchor="start" fill="#222" >Fit</text>
<text x="516" y="29" font-size="8.6" fill="#222"><tspan font-style="italic">τ</tspan><tspan font-size="6.2" dy="2.3">f,X</tspan><tspan dy="-2.3"> = 29 ns</tspan></text>
<text x="611" y="61.2" font-size="8.6" fill="#222"><tspan font-style="italic">τ</tspan><tspan font-size="6.2" dy="2.3">s,X</tspan><tspan dy="-2.3"> = 697 ns</tspan></text>
<line x1="542" y1="116.2" x2="574" y2="116.2" stroke="#111" stroke-width="1.3"/>
<line x1="599" y1="126.2" x2="630.7" y2="126.2" stroke="#111" stroke-width="1.3"/>
<line x1="542" y1="174.3" x2="630.7" y2="174.3" stroke="#111" stroke-width="1.3"/>
<line x1="558.3" y1="116.8" x2="558.3" y2="169" stroke="#f2a11e" stroke-width="1.35"/><path d="M556,168 L558.3,173.6 L560.6,168 Z" fill="#f2a11e"/>
<line x1="614.3" y1="126.8" x2="614.3" y2="169" stroke="#f2a11e" stroke-width="1.35"/><path d="M612,168 L614.3,173.6 L616.6,168 Z" fill="#f2a11e"/>
<path d="M576.5,115.4 Q587,110.5 594.6,119" fill="none" stroke="#f2a11e" stroke-width="1.35"/><path d="M592.2,119.8 L597,122.6 L596.6,117 Z" fill="#f2a11e"/>
<path d="M597.5,127.3 Q586,132.5 578.6,121.6" fill="none" stroke="#f2a11e" stroke-width="1.35"/><path d="M580.8,121 L575.6,118.2 L576.4,123.8 Z" fill="#f2a11e"/>
<text x="554.3" y="110.2" font-size="8.8" fill="#222">X<tspan font-size="6.3" dy="1.8">d</tspan></text>
<text x="609.8" y="120.2" font-size="8.8" fill="#222">X<tspan font-size="6.3" dy="1.8">i</tspan></text>
<text x="534" y="177.4" font-size="8.8" fill="#222">G</text>
<text x="583.5" y="110.3" font-size="9" fill="#222"><tspan font-style="italic">τ</tspan><tspan font-size="6.5" dy="2.3">d-i</tspan><tspan dy="-2.3"></tspan></text>
<text x="581" y="135.5" font-size="9" fill="#222"><tspan font-style="italic">τ</tspan><tspan font-size="6.5" dy="2.3">i-d</tspan><tspan dy="-2.3"></tspan></text>
<text x="547.8" y="149" font-size="9" fill="#222"><tspan font-style="italic">τ</tspan><tspan font-size="6.5" dy="2.3">d</tspan><tspan dy="-2.3"></tspan></text>
<text x="604.8" y="152.7" font-size="9" fill="#222"><tspan font-style="italic">τ</tspan><tspan font-size="6.5" dy="2.3">i</tspan><tspan dy="-2.3"></tspan></text>
<text x="459.8" y="230.6" font-size="12.5" font-weight="bold" fill="#000" stroke="#000" stroke-width="0.5">e</text>
<rect x="494.6" y="228.75" width="182.5" height="98.35" fill="none" stroke="#7a7a7a" stroke-width="0.9"/>
<line x1="494.6" y1="232.5" x2="497.6" y2="232.5" stroke="#7a7a7a" stroke-width="0.9"/>
<text x="490.4" y="235.2" font-size="7.6" text-anchor="end" fill="#333" >1</text>
<line x1="494.6" y1="278.5" x2="497.6" y2="278.5" stroke="#7a7a7a" stroke-width="0.9"/>
<text x="490.4" y="281.2" font-size="7.6" text-anchor="end" fill="#333" >0.1</text>
<line x1="494.6" y1="325" x2="497.6" y2="325" stroke="#7a7a7a" stroke-width="0.9"/>
<text x="490.4" y="327.7" font-size="7.6" text-anchor="end" fill="#333" >0.01</text>
<line x1="497.50" y1="327.1" x2="497.50" y2="324.2" stroke="#7a7a7a" stroke-width="0.9"/>
<text x="497.50" y="336.6" font-size="7.6" text-anchor="middle" fill="#333" >0</text>
<line x1="533.05" y1="327.1" x2="533.05" y2="324.2" stroke="#7a7a7a" stroke-width="0.9"/>
<text x="533.05" y="336.6" font-size="7.6" text-anchor="middle" fill="#333" >500</text>
<line x1="568.60" y1="327.1" x2="568.60" y2="324.2" stroke="#7a7a7a" stroke-width="0.9"/>
<text x="568.60" y="336.6" font-size="7.6" text-anchor="middle" fill="#333" >1,000</text>
<line x1="604.15" y1="327.1" x2="604.15" y2="324.2" stroke="#7a7a7a" stroke-width="0.9"/>
<text x="604.15" y="336.6" font-size="7.6" text-anchor="middle" fill="#333" >1,500</text>
<line x1="639.70" y1="327.1" x2="639.70" y2="324.2" stroke="#7a7a7a" stroke-width="0.9"/>
<text x="639.70" y="336.6" font-size="7.6" text-anchor="middle" fill="#333" >2,000</text>
<line x1="675.25" y1="327.1" x2="675.25" y2="324.2" stroke="#7a7a7a" stroke-width="0.9"/>
<text x="675.25" y="336.6" font-size="7.6" text-anchor="middle" fill="#333" >2,500</text>
<text x="586.25" y="349.5" font-size="8.8" text-anchor="middle" fill="#222" textLength="36.5" lengthAdjust="spacingAndGlyphs">Time (ns)</text>
<text x="468.8" y="276.5" font-size="8.8" text-anchor="middle" fill="#222" transform="rotate(-90 468.8 276.5)" textLength="70" lengthAdjust="spacingAndGlyphs">PL intensity (a.u.)</text>
<g>
<polyline points="496.60,327.00 496.80,300.00 497.20,270.00 497.90,248.00 499.00,236.00 500.40,231.60 500.73,232.09 501.07,233.09 501.40,234.12 501.73,234.96 502.06,235.75 502.40,236.52 502.73,237.50 503.06,238.15 503.39,238.67 503.73,239.42 504.06,240.00 504.39,240.33 504.73,240.94 505.06,241.55 505.39,242.13 505.72,242.59 506.06,243.04 506.39,243.56 506.72,244.17 507.06,244.61 507.39,244.81 507.72,245.21 508.05,245.81 508.39,246.00 508.72,246.34 509.05,246.78 509.38,247.21 509.72,247.61 510.05,247.89 510.38,248.14 510.72,248.55 511.05,248.93 511.38,249.34 511.71,249.51 512.05,249.67 512.38,250.03 512.71,250.49 513.05,250.65 513.38,250.80 513.71,251.19 514.04,251.59 514.38,251.92 514.71,252.09 515.04,252.44 515.37,252.73 515.71,252.88 516.04,253.20 516.37,253.63 516.71,253.90 517.04,254.07 517.37,254.27 517.70,254.54 518.04,254.70 518.37,254.89 518.70,255.09 519.04,255.37 519.37,255.69 519.70,256.08 520.03,256.17 520.37,256.44 520.70,256.67 521.03,256.80 521.36,257.01 521.70,257.04 522.03,257.38 522.36,257.63 522.70,257.62 523.03,257.91 523.36,258.30 523.69,258.43 524.03,258.55 524.36,258.79 524.69,259.02 525.03,259.31 525.36,259.50 525.69,259.62 526.02,259.78 526.36,260.05 526.69,260.34 527.02,260.49 527.35,260.66 527.69,260.77 528.02,260.85 528.35,261.09 528.69,261.39 529.02,261.53 529.35,261.60 529.68,261.74 530.02,262.03 530.35,262.21 530.68,262.38 531.02,262.57 531.35,262.80 531.68,263.00 532.01,263.23 532.35,263.42 532.68,263.61 533.01,263.72 533.34,263.79 533.68,263.96 534.01,264.16 534.34,264.30 534.68,264.53 535.01,264.71 535.34,264.70 535.67,264.81 536.01,265.17 536.34,265.32 536.67,265.46 537.01,265.53 537.34,265.89 537.67,266.02 538.00,266.05 538.34,266.18 538.67,266.36 539.00,266.50 539.33,266.60 539.67,266.74 540.00,267.07 540.30,267.15 540.54,267.23 540.78,267.26 541.02,267.19 541.27,267.51 541.51,267.62 541.75,267.71 541.99,267.83 542.23,267.89 542.47,268.12 542.71,268.09 542.95,268.12 543.20,268.26 543.44,268.51 543.68,268.68 543.92,268.60 544.16,268.63 544.40,268.95 544.64,268.96 544.89,269.24 545.13,269.23 545.37,269.20 545.61,269.33 545.85,269.60 546.09,269.77 546.33,269.78 546.57,270.05 546.82,270.27 547.06,270.04 547.30,269.90 547.54,269.96 547.78,270.04 548.02,270.23 548.26,270.32 548.51,270.41 548.75,270.62 548.99,270.37 549.23,270.68 549.47,271.32 549.71,271.40 549.95,271.37 550.19,271.49 550.44,271.74 550.68,271.68 550.92,271.57 551.16,271.48 551.40,271.67 551.64,271.71 551.88,271.77 552.12,271.90 552.37,272.10 552.61,272.24 552.85,272.41 553.09,272.24 553.33,272.53 553.57,272.96 553.81,272.89 554.06,273.10 554.30,273.26 554.54,273.35 554.78,273.22 555.02,272.94 555.26,273.12 555.50,273.18 555.74,273.10 555.99,273.29 556.23,273.26 556.47,273.33 556.71,273.75 556.95,273.86 557.19,273.79 557.43,273.81 557.68,273.97 557.92,274.12 558.16,274.23 558.40,274.37 558.64,274.45 558.88,274.70 559.12,274.86 559.36,274.85 559.61,274.71 559.85,274.81 560.09,275.09 560.33,275.12 560.57,275.03 560.81,274.57 561.05,274.64 561.30,275.40 561.54,275.76 561.78,276.04 562.02,276.01 562.26,275.92 562.50,275.83 562.74,275.72 562.98,276.14 563.23,276.12 563.47,276.34 563.71,276.43 563.95,276.56 564.19,276.70 564.43,276.50 564.67,276.47 564.92,276.48 565.16,276.80 565.40,277.27 565.64,277.12 565.88,277.41 566.12,277.51 566.36,277.55 566.60,277.51 566.85,277.24 567.09,277.63 567.33,277.96 567.57,277.59 567.81,277.61 568.05,277.66 568.29,277.84 568.53,277.85 568.78,278.37 569.02,278.04 569.26,277.92 569.50,278.74 569.74,278.83 569.98,278.72 570.22,278.70 570.47,278.55 570.71,278.67 570.95,279.04 571.19,279.25 571.43,279.29 571.67,279.11 571.91,278.96 572.15,279.17 572.40,279.67 572.64,279.81 572.88,279.39 573.12,279.42 573.36,279.95 573.60,280.02 573.84,279.87 574.09,279.43 574.33,279.60 574.57,279.78 574.81,279.89 575.05,279.73 575.29,280.44 575.53,280.50 575.77,280.38 576.02,280.08 576.26,280.49 576.50,280.82 576.74,280.30 576.98,280.72 577.22,280.97 577.46,280.79 577.71,281.10 577.95,281.10 578.19,281.50 578.43,281.47 578.67,281.55 578.91,282.06 579.15,281.97 579.39,281.85 579.64,281.21 579.88,281.36 580.12,281.98 580.36,282.13 580.60,281.98 580.84,282.05 581.08,281.72 581.33,281.90 581.57,281.79 581.81,282.15 582.05,282.07 582.29,282.08 582.53,282.55 582.77,283.01 583.01,282.34 583.26,282.43 583.50,282.97 583.74,282.92 583.98,283.44 584.22,283.19 584.46,283.08 584.70,283.38 584.94,283.86 585.19,283.68 585.43,283.56 585.67,283.33 585.91,282.79 586.15,283.16 586.39,284.09 586.63,284.15 586.88,284.05 587.12,284.00 587.36,283.75 587.60,283.88 587.84,283.73 588.08,284.02 588.32,283.88 588.56,284.09 588.81,284.37 589.05,284.34 589.29,284.66 589.53,284.76 589.77,284.88 590.01,284.99 590.25,284.08 590.50,284.04 590.74,284.98 590.98,285.56 591.22,285.94 591.46,285.65 591.70,285.40 591.94,285.00 592.18,285.50 592.43,285.53 592.67,284.92 592.91,284.94 593.15,285.39 593.39,285.32 593.63,284.50 593.87,285.41 594.12,285.85 594.36,285.83 594.60,286.05 594.84,286.07 595.08,285.73 595.32,286.12 595.56,286.01 595.80,285.85 596.05,286.46 596.29,286.84 596.53,285.81 596.77,285.43 597.01,285.92 597.25,287.23 597.49,286.84 597.74,286.62 597.98,286.38 598.22,286.14 598.46,286.01 598.70,286.88 598.94,286.98 599.18,286.21 599.42,286.43 599.67,286.84 599.91,287.29 600.15,287.68 600.39,288.20 600.63,288.45 600.87,288.45 601.11,288.27 601.35,287.34 601.60,287.57 601.84,288.36 602.08,288.23 602.32,287.79 602.56,286.94 602.80,287.13 603.04,288.33 603.29,288.48 603.53,288.19 603.77,287.93 604.01,287.66 604.25,288.60 604.49,289.34 604.73,289.56 604.97,288.94 605.22,288.54 605.46,288.47 605.70,289.56 605.94,289.85 606.18,289.02 606.42,289.16 606.66,289.16 606.91,288.60 607.15,287.96 607.39,288.90 607.63,289.44 607.87,288.74 608.11,288.45 608.35,288.08 608.59,289.87 608.84,290.15 609.08,289.84 609.32,289.62 609.56,289.54 609.80,289.79 610.04,289.83 610.28,289.92 610.53,290.12 610.77,290.50 611.01,290.85 611.25,289.88 611.49,290.22 611.73,290.01 611.97,289.50 612.21,289.31 612.46,290.44 612.70,290.18 612.94,290.30 613.18,290.77 613.42,290.40 613.66,290.77 613.90,291.09 614.15,291.61 614.39,291.63 614.63,291.03 614.87,291.56 615.11,291.41 615.35,291.37 615.59,291.45 615.83,291.66 616.08,291.07 616.32,291.73 616.56,292.27 616.80,292.08 617.04,292.69 617.28,291.80 617.52,291.82 617.76,291.63 618.01,291.43 618.25,291.29 618.49,291.66 618.73,291.95 618.97,291.95 619.21,292.90 619.45,293.09 619.70,291.98 619.94,292.72 620.18,292.82 620.42,293.17 620.66,294.24 620.90,293.84 621.14,293.19 621.38,292.64 621.63,291.88 621.87,292.91 622.11,292.77 622.35,293.07 622.59,293.38 622.83,294.07 623.07,294.68 623.32,294.39 623.56,294.19 623.80,293.58 624.04,293.82 624.28,293.80 624.52,293.27 624.76,294.42 625.00,293.45 625.25,293.23 625.49,294.86 625.73,295.19 625.97,293.81 626.21,294.06 626.45,295.67 626.69,294.36 626.94,293.01 627.18,293.90 627.42,295.38 627.66,295.15 627.90,295.12 628.14,295.36 628.38,295.03 628.62,294.24 628.87,293.77 629.11,294.48 629.35,294.19 629.59,294.87 629.83,295.89 630.07,295.50 630.31,295.09 630.56,295.18 630.80,295.63 631.04,295.54 631.28,294.65 631.52,295.41 631.76,296.39 632.00,295.92 632.24,295.00 632.49,294.63 632.73,294.15 632.97,295.07 633.21,296.36 633.45,295.77 633.69,295.17 633.93,295.32 634.17,295.68 634.42,295.77 634.66,295.62 634.90,295.64 635.14,296.54 635.38,296.98 635.62,296.03 635.86,296.04 636.11,296.61 636.35,295.64 636.59,295.77 636.83,296.18 637.07,296.49 637.31,296.29 637.55,296.14 637.79,296.50 638.04,295.84 638.28,295.30 638.52,295.56 638.76,296.68 639.00,296.19 639.24,297.06 639.48,297.62 639.73,297.62 639.97,297.10 640.21,296.90 640.45,297.12 640.69,296.80 640.93,296.78 641.17,297.75 641.41,297.49 641.66,298.45 641.90,298.08 642.14,297.55 642.38,298.06 642.62,298.26 642.86,297.09 643.10,296.95 643.35,297.21 643.59,297.94 643.83,298.26 644.07,298.02 644.31,297.64 644.55,297.95 644.79,298.96 645.03,299.10 645.28,298.37 645.52,297.79 645.76,298.61 646.00,298.78 646.24,299.00 646.48,299.71 646.72,299.21 646.97,298.14 647.21,298.29 647.45,299.43 647.69,299.33 647.93,299.40 648.17,298.89 648.41,298.52 648.65,299.34 648.90,300.11 649.14,299.47 649.38,298.66 649.62,298.89 649.86,299.08 650.10,299.61 650.34,300.40 650.58,300.82 650.83,299.98 651.07,299.47 651.31,299.68 651.55,299.71 651.79,299.59 652.03,299.81 652.27,299.73 652.52,299.41 652.76,300.06 653.00,299.80 653.24,299.60 653.48,300.20 653.72,300.32 653.96,301.22 654.20,300.88 654.45,300.37 654.69,299.95 654.93,300.26 655.17,300.80 655.41,300.45 655.65,300.57 655.89,299.68 656.14,300.61 656.38,301.30 656.62,301.13 656.86,301.08 657.10,301.32 657.34,300.50 657.58,300.35 657.82,301.15 658.07,301.86 658.31,301.56 658.55,301.22 658.79,301.47 659.03,301.40 659.27,300.29 659.51,299.51 659.76,300.20 660.00,300.43 660.24,300.80 660.48,300.72 660.72,301.06 660.96,301.82 661.20,301.88 661.44,302.08 661.69,302.69 661.93,301.87 662.17,301.89 662.41,302.46 662.65,301.40 662.89,301.26 663.13,302.67 663.38,302.71 663.62,302.75 663.86,302.91 664.10,302.89 664.34,302.30 664.58,302.17 664.82,301.92 665.06,302.50 665.31,302.70 665.55,302.57 665.79,303.49 666.03,304.30 666.27,302.81 666.51,303.29 666.75,303.75 666.99,303.58 667.24,302.96 667.48,303.70 667.72,303.66 667.96,303.16 668.20,303.06 668.44,303.51 668.68,304.02 668.93,304.39 669.17,304.77 669.41,303.76 669.65,303.74 669.89,303.58 670.13,304.01 670.37,303.78 670.61,303.21 670.86,302.83 671.10,303.23 671.34,304.12 671.58,304.89 671.82,304.44 672.06,303.41 672.30,303.60 672.55,304.02 672.79,304.09 673.03,304.32 673.27,304.69 673.51,304.38 673.75,303.63 673.99,303.11 674.23,303.60 674.48,303.41 674.72,304.14 674.96,304.42 675.20,303.85" fill="none" stroke="#f5a623" stroke-width="0.95" stroke-linejoin="round" />
<polyline points="496.60,327.00 496.80,300.00 497.20,270.00 497.90,248.00 499.00,236.00 500.40,231.60 500.73,233.00 501.07,234.87 501.40,236.29 501.73,237.52 502.06,239.00 502.40,240.27 502.73,241.35 503.06,242.42 503.39,243.51 503.73,244.49 504.06,245.33 504.39,246.06 504.73,246.86 505.06,247.53 505.39,248.27 505.72,249.05 506.06,249.72 506.39,250.50 506.72,251.37 507.06,251.82 507.39,252.18 507.72,252.62 508.05,253.24 508.39,253.72 508.72,254.23 509.05,254.94 509.38,255.42 509.72,256.02 510.05,256.67 510.38,256.92 510.72,257.27 511.05,257.69 511.38,258.04 511.71,258.39 512.05,258.86 512.38,259.36 512.71,259.61 513.05,259.84 513.38,260.19 513.71,260.60 514.04,261.07 514.38,261.49 514.71,261.86 515.04,262.22 515.37,262.46 515.71,262.83 516.04,263.14 516.37,263.40 516.71,263.56 517.04,264.01 517.37,264.14 517.70,264.45 518.04,264.90 518.37,265.19 518.70,265.60 519.04,265.75 519.37,265.90 519.70,266.23 520.03,266.53 520.37,266.97 520.70,267.27 521.03,267.41 521.36,267.54 521.70,267.84 522.03,268.14 522.36,268.23 522.70,268.47 523.03,268.87 523.36,269.11 523.69,269.25 524.03,269.41 524.36,269.57 524.69,270.01 525.03,270.16 525.36,270.23 525.69,270.45 526.02,270.78 526.36,271.22 526.69,271.36 527.02,271.44 527.35,271.89 527.69,272.07 528.02,271.99 528.35,272.08 528.69,272.55 529.02,272.72 529.35,272.91 529.68,273.14 530.02,273.50 530.35,273.75 530.68,273.87 531.02,273.96 531.35,274.18 531.68,274.35 532.01,274.43 532.35,274.78 532.68,274.91 533.01,275.11 533.34,275.32 533.68,275.58 534.01,275.84 534.34,276.06 534.68,276.01 535.01,276.10 535.34,276.34 535.67,276.51 536.01,276.77 536.34,276.85 536.67,277.09 537.01,277.39 537.34,277.57 537.67,277.70 538.00,277.98 538.34,278.08 538.67,277.96 539.00,278.26 539.33,278.47 539.67,278.55 540.00,278.68 540.30,278.92 540.54,279.11 540.78,279.27 541.02,279.51 541.27,279.56 541.51,279.44 541.75,279.54 541.99,279.81 542.23,279.81 542.47,279.99 542.71,280.22 542.95,280.40 543.20,280.51 543.44,280.66 543.68,280.58 543.92,280.72 544.16,280.72 544.40,280.89 544.64,280.99 544.89,280.85 545.13,280.81 545.37,281.38 545.61,281.56 545.85,281.56 546.09,281.54 546.33,281.71 546.57,281.95 546.82,282.08 547.06,282.31 547.30,282.25 547.54,282.21 547.78,282.46 548.02,282.46 548.26,282.55 548.51,282.41 548.75,282.72 548.99,283.00 549.23,282.97 549.47,283.16 549.71,283.39 549.95,283.52 550.19,283.81 550.44,283.63 550.68,283.63 550.92,283.63 551.16,283.40 551.40,283.60 551.64,284.09 551.88,284.25 552.12,284.56 552.37,284.46 552.61,284.53 552.85,284.83 553.09,284.93 553.33,285.10 553.57,284.81 553.81,285.08 554.06,285.32 554.30,285.45 554.54,285.67 554.78,285.71 555.02,285.55 555.26,285.55 555.50,285.89 555.74,285.95 555.99,286.22 556.23,286.40 556.47,286.18 556.71,285.99 556.95,286.23 557.19,286.55 557.43,286.58 557.68,286.86 557.92,286.80 558.16,286.78 558.40,286.74 558.64,286.99 558.88,287.32 559.12,287.14 559.36,287.10 559.61,287.20 559.85,287.48 560.09,287.17 560.33,287.42 560.57,288.03 560.81,288.25 561.05,288.04 561.30,288.09 561.54,287.71 561.78,288.26 562.02,288.32 562.26,287.92 562.50,287.84 562.74,288.29 562.98,288.71 563.23,288.87 563.47,288.95 563.71,289.20 563.95,289.15 564.19,288.74 564.43,288.92 564.67,289.19 564.92,289.58 565.16,289.49 565.40,289.80 565.64,289.95 565.88,290.41 566.12,290.01 566.36,289.89 566.60,289.97 566.85,290.33 567.09,290.86 567.33,290.24 567.57,290.01 567.81,290.35 568.05,290.61 568.29,290.43 568.53,290.91 568.78,291.07 569.02,290.86 569.26,290.78 569.50,290.74 569.74,290.88 569.98,291.04 570.22,291.77 570.47,291.99 570.71,291.52 570.95,291.32 571.19,290.96 571.43,291.39 571.67,291.89 571.91,292.02 572.15,292.12 572.40,292.35 572.64,292.21 572.88,292.26 573.12,292.61 573.36,291.78 573.60,291.80 573.84,292.11 574.09,292.23 574.33,292.35 574.57,292.56 574.81,292.60 575.05,292.93 575.29,293.25 575.53,293.21 575.77,293.16 576.02,292.85 576.26,292.83 576.50,293.32 576.74,293.87 576.98,293.96 577.22,294.24 577.46,294.38 577.71,294.28 577.95,293.90 578.19,294.47 578.43,294.74 578.67,295.10 578.91,294.75 579.15,294.51 579.39,294.42 579.64,294.36 579.88,293.94 580.12,294.37 580.36,294.81 580.60,295.11 580.84,294.77 581.08,295.16 581.33,295.71 581.57,295.24 581.81,295.41 582.05,295.17 582.29,295.32 582.53,295.72 582.77,295.87 583.01,295.39 583.26,295.39 583.50,296.27 583.74,296.19 583.98,296.37 584.22,296.55 584.46,296.46 584.70,296.11 584.94,295.94 585.19,295.67 585.43,296.20 585.67,296.28 585.91,296.69 586.15,297.47 586.39,297.21 586.63,296.70 586.88,296.36 587.12,297.24 587.36,297.62 587.60,296.96 587.84,297.15 588.08,297.03 588.32,297.11 588.56,296.98 588.81,296.63 589.05,296.87 589.29,297.00 589.53,298.19 589.77,298.38 590.01,298.01 590.25,298.02 590.50,298.05 590.74,298.16 590.98,298.19 591.22,298.08 591.46,297.97 591.70,297.57 591.94,297.69 592.18,298.10 592.43,298.51 592.67,298.75 592.91,299.49 593.15,298.90 593.39,298.72 593.63,299.21 593.87,299.79 594.12,300.20 594.36,299.77 594.60,299.05 594.84,299.27 595.08,299.86 595.32,299.81 595.56,299.91 595.80,299.88 596.05,300.60 596.29,300.80 596.53,300.56 596.77,299.87 597.01,298.99 597.25,299.18 597.49,300.14 597.74,300.10 597.98,298.84 598.22,299.81 598.46,301.00 598.70,301.01 598.94,300.50 599.18,300.83 599.42,300.73 599.67,300.79 599.91,301.49 600.15,301.53 600.39,300.71 600.63,300.26 600.87,300.07 601.11,300.44 601.35,301.96 601.60,302.48 601.84,301.92 602.08,301.90 602.32,301.30 602.56,301.57 602.80,302.15 603.04,302.01 603.29,301.56 603.53,300.76 603.77,300.84 604.01,301.46 604.25,301.69 604.49,301.90 604.73,301.82 604.97,302.06 605.22,302.41 605.46,302.70 605.70,302.50 605.94,302.21 606.18,302.52 606.42,303.08 606.66,302.62 606.91,302.09 607.15,302.22 607.39,303.03 607.63,303.56 607.87,303.79 608.11,303.40 608.35,303.86 608.59,303.28 608.84,303.07 609.08,303.15 609.32,303.85 609.56,304.21 609.80,303.69 610.04,303.14 610.28,302.83 610.53,303.58 610.77,303.68 611.01,303.67 611.25,303.47 611.49,303.40 611.73,303.83 611.97,304.55 612.21,304.90 612.46,304.55 612.70,304.55 612.94,304.39 613.18,304.19 613.42,303.94 613.66,305.04 613.90,305.49 614.15,305.64 614.39,304.78 614.63,304.73 614.87,304.52 615.11,305.02 615.35,305.21 615.59,305.54 615.83,305.40 616.08,305.59 616.32,305.32 616.56,305.66 616.80,305.36 617.04,305.28 617.28,305.69 617.52,305.69 617.76,304.72 618.01,304.70 618.25,305.73 618.49,305.60 618.73,304.47 618.97,304.55 619.21,305.44 619.45,306.32 619.70,306.66 619.94,307.23 620.18,307.77 620.42,307.89 620.66,306.09 620.90,306.52 621.14,307.09 621.38,305.90 621.63,305.74 621.87,306.93 622.11,307.87 622.35,307.64 622.59,305.96 622.83,306.02 623.07,306.80 623.32,306.96 623.56,307.43 623.80,307.84 624.04,308.53 624.28,307.82 624.52,307.67 624.76,307.91 625.00,308.17 625.25,307.34 625.49,307.70 625.73,307.20 625.97,307.13 626.21,308.56 626.45,308.86 626.69,309.13 626.94,308.72 627.18,308.72 627.42,308.62 627.66,308.68 627.90,308.61 628.14,309.32 628.38,308.65 628.62,309.48 628.87,309.04 629.11,309.28 629.35,309.14 629.59,309.45 629.83,309.97 630.07,309.19 630.31,308.55 630.56,309.22 630.80,309.17 631.04,308.02 631.28,309.66 631.52,309.90 631.76,308.50 632.00,309.22 632.24,309.82 632.49,308.96 632.73,309.13 632.97,309.55 633.21,310.28 633.45,310.64 633.69,310.11 633.93,310.18 634.17,310.72 634.42,310.58 634.66,310.43 634.90,310.76 635.14,309.67 635.38,310.08 635.62,310.06 635.86,310.09 636.11,310.55 636.35,311.09 636.59,312.29 636.83,311.62 637.07,311.40 637.31,312.10 637.55,311.46 637.79,309.97 638.04,310.85 638.28,311.42 638.52,310.92 638.76,311.14 639.00,311.06 639.24,311.12 639.48,310.02 639.73,309.76 639.97,310.78 640.21,311.79 640.45,312.39 640.69,311.55 640.93,311.33 641.17,312.17 641.41,312.33 641.66,312.97 641.90,311.82 642.14,310.58 642.38,310.98 642.62,311.07 642.86,310.94 643.10,311.31 643.35,311.62 643.59,311.89 643.83,312.04 644.07,312.65 644.31,312.85 644.55,312.76 644.79,312.39 645.03,311.19 645.28,311.14 645.52,311.94 645.76,312.54 646.00,311.93 646.24,312.44 646.48,313.44 646.72,314.39 646.97,313.54 647.21,313.08 647.45,313.84 647.69,313.55 647.93,313.39 648.17,313.86 648.41,313.11 648.65,313.46 648.90,313.81 649.14,313.97 649.38,312.86 649.62,312.61 649.86,313.23 650.10,313.59 650.34,313.78 650.58,313.79 650.83,314.32 651.07,314.60 651.31,314.17 651.55,313.75 651.79,314.45 652.03,313.48 652.27,314.07 652.52,314.78 652.76,314.45 653.00,315.55 653.24,316.29 653.48,316.04 653.72,315.41 653.96,315.31 654.20,314.70 654.45,315.06 654.69,315.26 654.93,315.10 655.17,315.06 655.41,314.57 655.65,313.89 655.89,315.09 656.14,315.87 656.38,316.75 656.62,316.17 656.86,315.72 657.10,316.11 657.34,316.04 657.58,315.57 657.82,315.07 658.07,314.67 658.31,315.81 658.55,316.46 658.79,314.76 659.03,315.06 659.27,316.26 659.51,316.32 659.76,315.98 660.00,314.88 660.24,315.51 660.48,316.52 660.72,316.78 660.96,316.44 661.20,315.96 661.44,316.36 661.69,315.64 661.93,315.48 662.17,315.93 662.41,317.24 662.65,316.71 662.89,316.28 663.13,315.62 663.38,317.21 663.62,317.09 663.86,315.69 664.10,315.99 664.34,317.63 664.58,317.18 664.82,318.07 665.06,316.80 665.31,315.82 665.55,317.65 665.79,318.04 666.03,317.87 666.27,317.25 666.51,317.49 666.75,318.00 666.99,316.93 667.24,316.47 667.48,317.84 667.72,317.83 667.96,318.46 668.20,317.77 668.44,317.55 668.68,317.33 668.93,316.75 669.17,318.30 669.41,317.96 669.65,318.26 669.89,319.20 670.13,318.86 670.37,319.04 670.61,318.97 670.86,319.10 671.10,319.09 671.34,319.34 671.58,318.82 671.82,318.82 672.06,318.62 672.30,319.01 672.55,317.74 672.79,318.68 673.03,319.30 673.27,319.30 673.51,319.39 673.75,320.38 673.99,320.66 674.23,318.89 674.48,317.74 674.72,318.12 674.96,318.63 675.20,319.20" fill="none" stroke="#4b4bf0" stroke-width="0.95" stroke-linejoin="round" />
</g>
<line x1="615.3" y1="240" x2="630.3" y2="240" stroke="#f5a623" stroke-width="0.95"/>
<line x1="615.3" y1="252.5" x2="630.3" y2="252.5" stroke="#4b4bf0" stroke-width="0.95"/>
<text x="635.3" y="243.1" font-size="8.6" text-anchor="start" fill="#222" textLength="29.5" lengthAdjust="spacingAndGlyphs">1.95 eV</text>
<text x="635.3" y="255.6" font-size="8.6" text-anchor="start" fill="#222" textLength="29.5" lengthAdjust="spacingAndGlyphs">2.02 eV</text>
</svg>
</body></html>
